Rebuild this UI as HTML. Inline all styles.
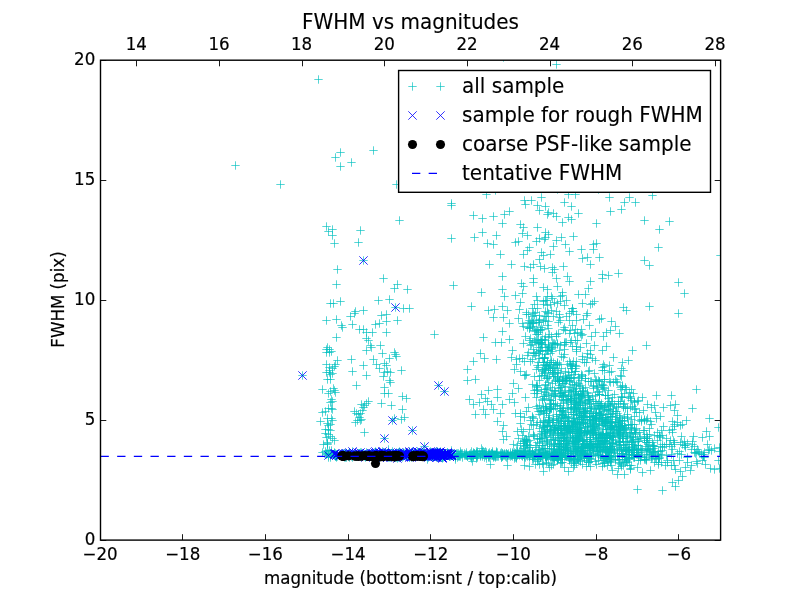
<!DOCTYPE html>
<html><head><meta charset="utf-8"><title>FWHM vs magnitudes</title>
<style>
html,body{margin:0;padding:0;background:#fff;}
body{width:800px;height:600px;overflow:hidden;}
svg{display:block;}
text{font-family:"DejaVu Sans","Liberation Sans",sans-serif;fill:#000;stroke:#000;stroke-width:0.18px;}
.tk{font-size:16.67px;}
.lg{font-size:20px;stroke-width:0.12px;}
</style></head><body>
<svg width="800" height="600" viewBox="0 0 800 600">
<rect width="800" height="600" fill="#fff"/>
<defs>
<g id="p" stroke="#00bfbf" stroke-opacity="0.66" stroke-width="1" fill="none"><path d="M-4.2 0H4.2"/><path d="M0 -4.2V4.2"/></g>
<g id="x" stroke="#0000ff" stroke-opacity="0.8" stroke-width="1" fill="none"><path d="M-4.2 -4.2L4.2 4.2"/><path d="M-4.2 4.2L4.2 -4.2"/></g>
<circle id="o" r="4.55" fill="#000"/>
<clipPath id="c"><rect x="100" y="60" width="620" height="480"/></clipPath>
</defs>

<g clip-path="url(#c)">
<use href="#p" x="318.5" y="79.5"/>
<use href="#p" x="235.5" y="165.5"/>
<use href="#p" x="280.5" y="184.5"/>
<use href="#p" x="340.5" y="152.5"/>
<use href="#p" x="335.5" y="157.5"/>
<use href="#p" x="340.5" y="166.5"/>
<use href="#p" x="351.5" y="162.5"/>
<use href="#p" x="373.5" y="150.5"/>
<use href="#p" x="396.5" y="184.5"/>
<use href="#p" x="326.5" y="226.5"/>
<use href="#p" x="332.5" y="229.5"/>
<use href="#p" x="328.5" y="231.5"/>
<use href="#p" x="332.5" y="235.5"/>
<use href="#p" x="334.5" y="243.5"/>
<use href="#p" x="360.5" y="230.5"/>
<use href="#p" x="358.5" y="242.5"/>
<use href="#p" x="399.5" y="220.5"/>
<use href="#p" x="451.5" y="203.5"/>
<use href="#p" x="451.5" y="205.5"/>
<use href="#p" x="451.5" y="238.5"/>
<use href="#p" x="363.5" y="260.5"/>
<use href="#p" x="337.5" y="269.5"/>
<use href="#p" x="336.5" y="284.5"/>
<use href="#p" x="383.5" y="278.5"/>
<use href="#p" x="397.5" y="284.5"/>
<use href="#p" x="394.5" y="288.5"/>
<use href="#p" x="407.5" y="289.5"/>
<use href="#p" x="453.5" y="285.5"/>
<use href="#p" x="378.5" y="300.5"/>
<use href="#p" x="389.5" y="299.5"/>
<use href="#p" x="330.5" y="303.5"/>
<use href="#p" x="333.5" y="303.5"/>
<use href="#p" x="340.5" y="301.5"/>
<use href="#p" x="395.5" y="307.5"/>
<use href="#p" x="403.5" y="308.5"/>
<use href="#p" x="409.5" y="308.5"/>
<use href="#p" x="363.5" y="310.5"/>
<use href="#p" x="355.5" y="311.5"/>
<use href="#p" x="354.5" y="313.5"/>
<use href="#p" x="350.5" y="316.5"/>
<use href="#p" x="381.5" y="315.5"/>
<use href="#p" x="386.5" y="314.5"/>
<use href="#p" x="336.5" y="319.5"/>
<use href="#p" x="326.5" y="320.5"/>
<use href="#p" x="397.5" y="320.5"/>
<use href="#p" x="341.5" y="325.5"/>
<use href="#p" x="342.5" y="327.5"/>
<use href="#p" x="352.5" y="324.5"/>
<use href="#p" x="359.5" y="329.5"/>
<use href="#p" x="363.5" y="329.5"/>
<use href="#p" x="366.5" y="332.5"/>
<use href="#p" x="372.5" y="332.5"/>
<use href="#p" x="375.5" y="324.5"/>
<use href="#p" x="379.5" y="323.5"/>
<use href="#p" x="386.5" y="321.5"/>
<use href="#p" x="386.5" y="332.5"/>
<use href="#p" x="434.5" y="334.5"/>
<use href="#p" x="336.5" y="337.5"/>
<use href="#p" x="366.5" y="338.5"/>
<use href="#p" x="368.5" y="340.5"/>
<use href="#p" x="370.5" y="345.5"/>
<use href="#p" x="371.5" y="347.5"/>
<use href="#p" x="380.5" y="345.5"/>
<use href="#p" x="366.5" y="350.5"/>
<use href="#p" x="382.5" y="353.5"/>
<use href="#p" x="394.5" y="352.5"/>
<use href="#p" x="395.5" y="354.5"/>
<use href="#p" x="396.5" y="356.5"/>
<use href="#p" x="389.5" y="358.5"/>
<use href="#p" x="326.5" y="349.5"/>
<use href="#p" x="329.5" y="349.5"/>
<use href="#p" x="326.5" y="352.5"/>
<use href="#p" x="329.5" y="352.5"/>
<use href="#p" x="331.5" y="351.5"/>
<use href="#p" x="327.5" y="347.5"/>
<use href="#p" x="351.5" y="359.5"/>
<use href="#p" x="373.5" y="359.5"/>
<use href="#p" x="337.5" y="360.5"/>
<use href="#p" x="376.5" y="364.5"/>
<use href="#p" x="363.5" y="365.5"/>
<use href="#p" x="384.5" y="363.5"/>
<use href="#p" x="386.5" y="365.5"/>
<use href="#p" x="379.5" y="368.5"/>
<use href="#p" x="352.5" y="371.5"/>
<use href="#p" x="366.5" y="375.5"/>
<use href="#p" x="401.5" y="370.5"/>
<use href="#p" x="384.5" y="372.5"/>
<use href="#p" x="390.5" y="372.5"/>
<use href="#p" x="387.5" y="371.5"/>
<use href="#p" x="383.5" y="376.5"/>
<use href="#p" x="389.5" y="380.5"/>
<use href="#p" x="390.5" y="382.5"/>
<use href="#p" x="326.5" y="364.5"/>
<use href="#p" x="329.5" y="367.5"/>
<use href="#p" x="332.5" y="368.5"/>
<use href="#p" x="334.5" y="366.5"/>
<use href="#p" x="335.5" y="364.5"/>
<use href="#p" x="326.5" y="372.5"/>
<use href="#p" x="329.5" y="372.5"/>
<use href="#p" x="330.5" y="374.5"/>
<use href="#p" x="332.5" y="373.5"/>
<use href="#p" x="327.5" y="379.5"/>
<use href="#p" x="330.5" y="379.5"/>
<use href="#p" x="329.5" y="370.5"/>
<use href="#p" x="356.5" y="385.5"/>
<use href="#p" x="384.5" y="387.5"/>
<use href="#p" x="322.5" y="389.5"/>
<use href="#p" x="333.5" y="388.5"/>
<use href="#p" x="334.5" y="390.5"/>
<use href="#p" x="335.5" y="392.5"/>
<use href="#p" x="330.5" y="391.5"/>
<use href="#p" x="328.5" y="393.5"/>
<use href="#p" x="384.5" y="393.5"/>
<use href="#p" x="388.5" y="393.5"/>
<use href="#p" x="402.5" y="396.5"/>
<use href="#p" x="406.5" y="398.5"/>
<use href="#p" x="331.5" y="399.5"/>
<use href="#p" x="332.5" y="401.5"/>
<use href="#p" x="330.5" y="402.5"/>
<use href="#p" x="368.5" y="401.5"/>
<use href="#p" x="366.5" y="403.5"/>
<use href="#p" x="364.5" y="405.5"/>
<use href="#p" x="361.5" y="404.5"/>
<use href="#p" x="363.5" y="407.5"/>
<use href="#p" x="381.5" y="403.5"/>
<use href="#p" x="391.5" y="405.5"/>
<use href="#p" x="402.5" y="409.5"/>
<use href="#p" x="322.5" y="412.5"/>
<use href="#p" x="325.5" y="411.5"/>
<use href="#p" x="328.5" y="408.5"/>
<use href="#p" x="331.5" y="408.5"/>
<use href="#p" x="332.5" y="409.5"/>
<use href="#p" x="354.5" y="411.5"/>
<use href="#p" x="356.5" y="413.5"/>
<use href="#p" x="358.5" y="414.5"/>
<use href="#p" x="360.5" y="413.5"/>
<use href="#p" x="362.5" y="410.5"/>
<use href="#p" x="359.5" y="417.5"/>
<use href="#p" x="361.5" y="419.5"/>
<use href="#p" x="357.5" y="420.5"/>
<use href="#p" x="355.5" y="422.5"/>
<use href="#p" x="360.5" y="420.5"/>
<use href="#p" x="320.5" y="421.5"/>
<use href="#p" x="327.5" y="418.5"/>
<use href="#p" x="331.5" y="418.5"/>
<use href="#p" x="332.5" y="420.5"/>
<use href="#p" x="327.5" y="423.5"/>
<use href="#p" x="328.5" y="425.5"/>
<use href="#p" x="330.5" y="424.5"/>
<use href="#p" x="404.5" y="417.5"/>
<use href="#p" x="401.5" y="419.5"/>
<use href="#p" x="394.5" y="418.5"/>
<use href="#p" x="364.5" y="432.5"/>
<use href="#p" x="325.5" y="429.5"/>
<use href="#p" x="328.5" y="429.5"/>
<use href="#p" x="330.5" y="430.5"/>
<use href="#p" x="325.5" y="433.5"/>
<use href="#p" x="328.5" y="434.5"/>
<use href="#p" x="330.5" y="436.5"/>
<use href="#p" x="326.5" y="437.5"/>
<use href="#p" x="332.5" y="438.5"/>
<use href="#p" x="486.5" y="194.5"/>
<use href="#p" x="541.5" y="197.5"/>
<use href="#p" x="568.5" y="194.5"/>
<use href="#p" x="575.5" y="194.5"/>
<use href="#p" x="609.5" y="197.5"/>
<use href="#p" x="524.5" y="200.5"/>
<use href="#p" x="531.5" y="200.5"/>
<use href="#p" x="525.5" y="204.5"/>
<use href="#p" x="537.5" y="205.5"/>
<use href="#p" x="545.5" y="206.5"/>
<use href="#p" x="564.5" y="202.5"/>
<use href="#p" x="571.5" y="206.5"/>
<use href="#p" x="610.5" y="211.5"/>
<use href="#p" x="621.5" y="209.5"/>
<use href="#p" x="539.5" y="210.5"/>
<use href="#p" x="548.5" y="212.5"/>
<use href="#p" x="547.5" y="214.5"/>
<use href="#p" x="553.5" y="213.5"/>
<use href="#p" x="556.5" y="216.5"/>
<use href="#p" x="578.5" y="213.5"/>
<use href="#p" x="568.5" y="217.5"/>
<use href="#p" x="571.5" y="219.5"/>
<use href="#p" x="562.5" y="222.5"/>
<use href="#p" x="473.5" y="215.5"/>
<use href="#p" x="482.5" y="218.5"/>
<use href="#p" x="493.5" y="216.5"/>
<use href="#p" x="504.5" y="214.5"/>
<use href="#p" x="509.5" y="211.5"/>
<use href="#p" x="502.5" y="223.5"/>
<use href="#p" x="520.5" y="224.5"/>
<use href="#p" x="523.5" y="227.5"/>
<use href="#p" x="537.5" y="227.5"/>
<use href="#p" x="596.5" y="223.5"/>
<use href="#p" x="482.5" y="232.5"/>
<use href="#p" x="474.5" y="237.5"/>
<use href="#p" x="496.5" y="235.5"/>
<use href="#p" x="522.5" y="233.5"/>
<use href="#p" x="527.5" y="235.5"/>
<use href="#p" x="545.5" y="232.5"/>
<use href="#p" x="548.5" y="234.5"/>
<use href="#p" x="545.5" y="237.5"/>
<use href="#p" x="561.5" y="237.5"/>
<use href="#p" x="573.5" y="236.5"/>
<use href="#p" x="556.5" y="240.5"/>
<use href="#p" x="487.5" y="243.5"/>
<use href="#p" x="493.5" y="244.5"/>
<use href="#p" x="515.5" y="242.5"/>
<use href="#p" x="518.5" y="241.5"/>
<use href="#p" x="536.5" y="241.5"/>
<use href="#p" x="539.5" y="238.5"/>
<use href="#p" x="544.5" y="239.5"/>
<use href="#p" x="553.5" y="246.5"/>
<use href="#p" x="565.5" y="244.5"/>
<use href="#p" x="593.5" y="244.5"/>
<use href="#p" x="596.5" y="243.5"/>
<use href="#p" x="593.5" y="249.5"/>
<use href="#p" x="500.5" y="254.5"/>
<use href="#p" x="529.5" y="247.5"/>
<use href="#p" x="527.5" y="250.5"/>
<use href="#p" x="523.5" y="254.5"/>
<use href="#p" x="541.5" y="252.5"/>
<use href="#p" x="543.5" y="255.5"/>
<use href="#p" x="550.5" y="254.5"/>
<use href="#p" x="569.5" y="251.5"/>
<use href="#p" x="581.5" y="249.5"/>
<use href="#p" x="582.5" y="258.5"/>
<use href="#p" x="587.5" y="257.5"/>
<use href="#p" x="599.5" y="257.5"/>
<use href="#p" x="539.5" y="259.5"/>
<use href="#p" x="489.5" y="264.5"/>
<use href="#p" x="511.5" y="264.5"/>
<use href="#p" x="524.5" y="266.5"/>
<use href="#p" x="530.5" y="267.5"/>
<use href="#p" x="533.5" y="264.5"/>
<use href="#p" x="540.5" y="266.5"/>
<use href="#p" x="544.5" y="268.5"/>
<use href="#p" x="552.5" y="267.5"/>
<use href="#p" x="554.5" y="269.5"/>
<use href="#p" x="563.5" y="266.5"/>
<use href="#p" x="590.5" y="264.5"/>
<use href="#p" x="502.5" y="276.5"/>
<use href="#p" x="533.5" y="278.5"/>
<use href="#p" x="533.5" y="282.5"/>
<use href="#p" x="552.5" y="272.5"/>
<use href="#p" x="556.5" y="278.5"/>
<use href="#p" x="567.5" y="276.5"/>
<use href="#p" x="569.5" y="281.5"/>
<use href="#p" x="590.5" y="281.5"/>
<use href="#p" x="602.5" y="274.5"/>
<use href="#p" x="602.5" y="278.5"/>
<use href="#p" x="608.5" y="275.5"/>
<use href="#p" x="618.5" y="273.5"/>
<use href="#p" x="481.5" y="292.5"/>
<use href="#p" x="502.5" y="289.5"/>
<use href="#p" x="504.5" y="296.5"/>
<use href="#p" x="515.5" y="295.5"/>
<use href="#p" x="521.5" y="283.5"/>
<use href="#p" x="523.5" y="286.5"/>
<use href="#p" x="522.5" y="293.5"/>
<use href="#p" x="543.5" y="287.5"/>
<use href="#p" x="547.5" y="289.5"/>
<use href="#p" x="557.5" y="286.5"/>
<use href="#p" x="562.5" y="292.5"/>
<use href="#p" x="588.5" y="288.5"/>
<use href="#p" x="578.5" y="294.5"/>
<use href="#p" x="585.5" y="294.5"/>
<use href="#p" x="536.5" y="296.5"/>
<use href="#p" x="547.5" y="296.5"/>
<use href="#p" x="551.5" y="296.5"/>
<use href="#p" x="552.5" y="298.5"/>
<use href="#p" x="560.5" y="296.5"/>
<use href="#p" x="562.5" y="295.5"/>
<use href="#p" x="624.5" y="202.5"/>
<use href="#p" x="629.5" y="197.5"/>
<use href="#p" x="635.5" y="202.5"/>
<use href="#p" x="652.5" y="195.5"/>
<use href="#p" x="644.5" y="220.5"/>
<use href="#p" x="669.5" y="221.5"/>
<use href="#p" x="659.5" y="229.5"/>
<use href="#p" x="658.5" y="247.5"/>
<use href="#p" x="644.5" y="260.5"/>
<use href="#p" x="649.5" y="265.5"/>
<use href="#p" x="678.5" y="282.5"/>
<use href="#p" x="684.5" y="293.5"/>
<use href="#p" x="720.5" y="255.5"/>
<use href="#p" x="556.5" y="64.5"/>
<use href="#p" x="503.5" y="57.5"/>
<use href="#p" x="471.5" y="306.5"/>
<use href="#p" x="488.5" y="310.5"/>
<use href="#p" x="494.5" y="309.5"/>
<use href="#p" x="502.5" y="306.5"/>
<use href="#p" x="507.5" y="310.5"/>
<use href="#p" x="493.5" y="317.5"/>
<use href="#p" x="503.5" y="317.5"/>
<use href="#p" x="509.5" y="323.5"/>
<use href="#p" x="502.5" y="331.5"/>
<use href="#p" x="483.5" y="337.5"/>
<use href="#p" x="495.5" y="342.5"/>
<use href="#p" x="501.5" y="342.5"/>
<use href="#p" x="509.5" y="339.5"/>
<use href="#p" x="480.5" y="353.5"/>
<use href="#p" x="484.5" y="358.5"/>
<use href="#p" x="496.5" y="359.5"/>
<use href="#p" x="473.5" y="361.5"/>
<use href="#p" x="467.5" y="369.5"/>
<use href="#p" x="467.5" y="380.5"/>
<use href="#p" x="475.5" y="379.5"/>
<use href="#p" x="512.5" y="350.5"/>
<use href="#p" x="511.5" y="357.5"/>
<use href="#p" x="516.5" y="359.5"/>
<use href="#p" x="514.5" y="369.5"/>
<use href="#p" x="520.5" y="371.5"/>
<use href="#p" x="525.5" y="375.5"/>
<use href="#p" x="513.5" y="383.5"/>
<use href="#p" x="518.5" y="388.5"/>
<use href="#p" x="497.5" y="389.5"/>
<use href="#p" x="488.5" y="390.5"/>
<use href="#p" x="481.5" y="394.5"/>
<use href="#p" x="485.5" y="398.5"/>
<use href="#p" x="469.5" y="399.5"/>
<use href="#p" x="473.5" y="404.5"/>
<use href="#p" x="479.5" y="402.5"/>
<use href="#p" x="487.5" y="401.5"/>
<use href="#p" x="491.5" y="404.5"/>
<use href="#p" x="497.5" y="397.5"/>
<use href="#p" x="502.5" y="404.5"/>
<use href="#p" x="509.5" y="399.5"/>
<use href="#p" x="512.5" y="393.5"/>
<use href="#p" x="514.5" y="402.5"/>
<use href="#p" x="475.5" y="414.5"/>
<use href="#p" x="485.5" y="414.5"/>
<use href="#p" x="483.5" y="409.5"/>
<use href="#p" x="493.5" y="409.5"/>
<use href="#p" x="500.5" y="413.5"/>
<use href="#p" x="515.5" y="413.5"/>
<use href="#p" x="520.5" y="416.5"/>
<use href="#p" x="524.5" y="417.5"/>
<use href="#p" x="519.5" y="309.5"/>
<use href="#p" x="520.5" y="302.5"/>
<use href="#p" x="526.5" y="312.5"/>
<use href="#p" x="518.5" y="318.5"/>
<use href="#p" x="523.5" y="326.5"/>
<use href="#p" x="529.5" y="320.5"/>
<use href="#p" x="534.5" y="304.5"/>
<use href="#p" x="532.5" y="308.5"/>
<use href="#p" x="539.5" y="315.5"/>
<use href="#p" x="545.5" y="320.5"/>
<use href="#p" x="548.5" y="313.5"/>
<use href="#p" x="554.5" y="302.5"/>
<use href="#p" x="557.5" y="303.5"/>
<use href="#p" x="559.5" y="317.5"/>
<use href="#p" x="564.5" y="305.5"/>
<use href="#p" x="569.5" y="313.5"/>
<use href="#p" x="572.5" y="308.5"/>
<use href="#p" x="576.5" y="320.5"/>
<use href="#p" x="582.5" y="303.5"/>
<use href="#p" x="587.5" y="313.5"/>
<use href="#p" x="592.5" y="303.5"/>
<use href="#p" x="589.5" y="325.5"/>
<use href="#p" x="611.5" y="321.5"/>
<use href="#p" x="615.5" y="326.5"/>
<use href="#p" x="619.5" y="333.5"/>
<use href="#p" x="606.5" y="346.5"/>
<use href="#p" x="591.5" y="336.5"/>
<use href="#p" x="594.5" y="345.5"/>
<use href="#p" x="580.5" y="333.5"/>
<use href="#p" x="623.5" y="307.5"/>
<use href="#p" x="626.5" y="310.5"/>
<use href="#p" x="649.5" y="306.5"/>
<use href="#p" x="678.5" y="313.5"/>
<use href="#p" x="632.5" y="350.5"/>
<use href="#p" x="646.5" y="345.5"/>
<use href="#p" x="622.5" y="362.5"/>
<use href="#p" x="628.5" y="360.5"/>
<use href="#p" x="609.5" y="365.5"/>
<use href="#p" x="604.5" y="370.5"/>
<use href="#p" x="611.5" y="371.5"/>
<use href="#p" x="623.5" y="370.5"/>
<use href="#p" x="621.5" y="376.5"/>
<use href="#p" x="604.5" y="379.5"/>
<use href="#p" x="613.5" y="382.5"/>
<use href="#p" x="617.5" y="382.5"/>
<use href="#p" x="626.5" y="389.5"/>
<use href="#p" x="696.5" y="389.5"/>
<use href="#p" x="656.5" y="395.5"/>
<use href="#p" x="671.5" y="395.5"/>
<use href="#p" x="633.5" y="393.5"/>
<use href="#p" x="642.5" y="397.5"/>
<use href="#p" x="630.5" y="398.5"/>
<use href="#p" x="634.5" y="402.5"/>
<use href="#p" x="654.5" y="405.5"/>
<use href="#p" x="651.5" y="407.5"/>
<use href="#p" x="663.5" y="407.5"/>
<use href="#p" x="670.5" y="405.5"/>
<use href="#p" x="675.5" y="404.5"/>
<use href="#p" x="674.5" y="410.5"/>
<use href="#p" x="692.5" y="408.5"/>
<use href="#p" x="635.5" y="408.5"/>
<use href="#p" x="643.5" y="410.5"/>
<use href="#p" x="677.5" y="415.5"/>
<use href="#p" x="660.5" y="416.5"/>
<use href="#p" x="709.5" y="418.5"/>
<use href="#p" x="647.5" y="418.5"/>
<use href="#p" x="624.5" y="403.5"/>
<use href="#p" x="627.5" y="414.5"/>
<use href="#p" x="637.5" y="489.5"/>
<use href="#p" x="662.5" y="490.5"/>
<use href="#p" x="675.5" y="486.5"/>
<use href="#p" x="672.5" y="482.5"/>
<use href="#p" x="678.5" y="480.5"/>
<use href="#p" x="682.5" y="476.5"/>
<use href="#p" x="690.5" y="470.5"/>
<use href="#p" x="624.5" y="474.5"/>
<use href="#p" x="642.5" y="472.5"/>
<use href="#p" x="650.5" y="470.5"/>
<use href="#p" x="612.5" y="470.5"/>
<use href="#p" x="602.5" y="466.5"/>
<use href="#p" x="607.5" y="465.5"/>
<use href="#p" x="618.5" y="468.5"/>
<use href="#p" x="630.5" y="469.5"/>
<use href="#p" x="637.5" y="467.5"/>
<use href="#p" x="658.5" y="464.5"/>
<use href="#p" x="667.5" y="462.5"/>
<use href="#p" x="675.5" y="469.5"/>
<use href="#p" x="674.5" y="465.5"/>
<use href="#p" x="685.5" y="467.5"/>
<use href="#p" x="691.5" y="465.5"/>
<use href="#p" x="687.5" y="462.5"/>
<use href="#p" x="696.5" y="461.5"/>
<use href="#p" x="702.5" y="460.5"/>
<use href="#p" x="714.5" y="469.5"/>
<use href="#p" x="719.5" y="468.5"/>
<use href="#p" x="718.5" y="460.5"/>
<use href="#p" x="680.5" y="425.5"/>
<use href="#p" x="706.5" y="431.5"/>
<use href="#p" x="709.5" y="436.5"/>
<use href="#p" x="693.5" y="436.5"/>
<use href="#p" x="718.5" y="427.5"/>
<use href="#p" x="684.5" y="441.5"/>
<use href="#p" x="687.5" y="443.5"/>
<use href="#p" x="692.5" y="444.5"/>
<use href="#p" x="707.5" y="444.5"/>
<use href="#p" x="711.5" y="450.5"/>
<use href="#p" x="704.5" y="452.5"/>
<use href="#p" x="697.5" y="449.5"/>
<use href="#p" x="694.5" y="452.5"/>
<use href="#p" x="685.5" y="445.5"/>
<use href="#p" x="679.5" y="451.5"/>
<use href="#p" x="681.5" y="454.5"/>
<use href="#p" x="672.5" y="449.5"/>
<use href="#p" x="664.5" y="446.5"/>
<use href="#p" x="662.5" y="450.5"/>
<use href="#p" x="669.5" y="430.5"/>
<use href="#p" x="672.5" y="429.5"/>
<use href="#p" x="663.5" y="426.5"/>
<use href="#p" x="497.5" y="421.5"/>
<use href="#p" x="503.5" y="425.5"/>
<use href="#p" x="502.5" y="431.5"/>
<use href="#p" x="517.5" y="431.5"/>
<use href="#p" x="523.5" y="431.5"/>
<use href="#p" x="506.5" y="436.5"/>
<use href="#p" x="503.5" y="439.5"/>
<use href="#p" x="523.5" y="443.5"/>
<use href="#p" x="481.5" y="448.5"/>
<use href="#p" x="530.5" y="420.5"/>
<use href="#p" x="472.5" y="461.5"/>
<use href="#p" x="490.5" y="464.5"/>
<use href="#p" x="507.5" y="465.5"/>
<use href="#p" x="524.5" y="465.5"/>
<use href="#p" x="564.5" y="467.5"/>
<use href="#p" x="586.5" y="466.5"/>
<use href="#p" x="495.5" y="190.5"/>
<use href="#p" x="557.5" y="189.5"/>
<use href="#p" x="598.5" y="189.5"/>
<use href="#p" x="537.5" y="300.5"/>
<use href="#p" x="543.5" y="301.5"/>
<use href="#p" x="545.5" y="300.5"/>
<use href="#p" x="546.5" y="300.5"/>
<use href="#p" x="560.5" y="301.5"/>
<use href="#p" x="566.5" y="300.5"/>
<use href="#p" x="594.5" y="301.5"/>
<use href="#p" x="543.5" y="304.5"/>
<use href="#p" x="547.5" y="305.5"/>
<use href="#p" x="550.5" y="304.5"/>
<use href="#p" x="590.5" y="304.5"/>
<use href="#p" x="537.5" y="308.5"/>
<use href="#p" x="545.5" y="311.5"/>
<use href="#p" x="551.5" y="310.5"/>
<use href="#p" x="556.5" y="311.5"/>
<use href="#p" x="571.5" y="311.5"/>
<use href="#p" x="572.5" y="308.5"/>
<use href="#p" x="573.5" y="311.5"/>
<use href="#p" x="526.5" y="314.5"/>
<use href="#p" x="528.5" y="314.5"/>
<use href="#p" x="534.5" y="315.5"/>
<use href="#p" x="535.5" y="312.5"/>
<use href="#p" x="547.5" y="312.5"/>
<use href="#p" x="559.5" y="314.5"/>
<use href="#p" x="576.5" y="314.5"/>
<use href="#p" x="586.5" y="315.5"/>
<use href="#p" x="532.5" y="316.5"/>
<use href="#p" x="539.5" y="319.5"/>
<use href="#p" x="544.5" y="316.5"/>
<use href="#p" x="546.5" y="316.5"/>
<use href="#p" x="553.5" y="316.5"/>
<use href="#p" x="566.5" y="316.5"/>
<use href="#p" x="583.5" y="319.5"/>
<use href="#p" x="599.5" y="319.5"/>
<use href="#p" x="601.5" y="318.5"/>
<use href="#p" x="531.5" y="321.5"/>
<use href="#p" x="528.5" y="322.5"/>
<use href="#p" x="533.5" y="322.5"/>
<use href="#p" x="533.5" y="323.5"/>
<use href="#p" x="532.5" y="323.5"/>
<use href="#p" x="538.5" y="322.5"/>
<use href="#p" x="536.5" y="320.5"/>
<use href="#p" x="539.5" y="320.5"/>
<use href="#p" x="548.5" y="321.5"/>
<use href="#p" x="558.5" y="322.5"/>
<use href="#p" x="560.5" y="320.5"/>
<use href="#p" x="569.5" y="320.5"/>
<use href="#p" x="530.5" y="327.5"/>
<use href="#p" x="532.5" y="326.5"/>
<use href="#p" x="541.5" y="327.5"/>
<use href="#p" x="547.5" y="325.5"/>
<use href="#p" x="564.5" y="327.5"/>
<use href="#p" x="572.5" y="325.5"/>
<use href="#p" x="529.5" y="328.5"/>
<use href="#p" x="534.5" y="330.5"/>
<use href="#p" x="536.5" y="329.5"/>
<use href="#p" x="542.5" y="329.5"/>
<use href="#p" x="540.5" y="329.5"/>
<use href="#p" x="540.5" y="330.5"/>
<use href="#p" x="548.5" y="328.5"/>
<use href="#p" x="563.5" y="329.5"/>
<use href="#p" x="565.5" y="330.5"/>
<use href="#p" x="570.5" y="330.5"/>
<use href="#p" x="575.5" y="329.5"/>
<use href="#p" x="581.5" y="329.5"/>
<use href="#p" x="610.5" y="330.5"/>
<use href="#p" x="538.5" y="332.5"/>
<use href="#p" x="549.5" y="334.5"/>
<use href="#p" x="556.5" y="334.5"/>
<use href="#p" x="558.5" y="333.5"/>
<use href="#p" x="569.5" y="333.5"/>
<use href="#p" x="574.5" y="333.5"/>
<use href="#p" x="577.5" y="332.5"/>
<use href="#p" x="581.5" y="335.5"/>
<use href="#p" x="582.5" y="334.5"/>
<use href="#p" x="595.5" y="332.5"/>
<use href="#p" x="606.5" y="332.5"/>
<use href="#p" x="525.5" y="336.5"/>
<use href="#p" x="537.5" y="339.5"/>
<use href="#p" x="542.5" y="339.5"/>
<use href="#p" x="548.5" y="337.5"/>
<use href="#p" x="551.5" y="336.5"/>
<use href="#p" x="556.5" y="336.5"/>
<use href="#p" x="603.5" y="336.5"/>
<use href="#p" x="529.5" y="340.5"/>
<use href="#p" x="532.5" y="342.5"/>
<use href="#p" x="535.5" y="341.5"/>
<use href="#p" x="541.5" y="340.5"/>
<use href="#p" x="540.5" y="340.5"/>
<use href="#p" x="552.5" y="342.5"/>
<use href="#p" x="553.5" y="343.5"/>
<use href="#p" x="557.5" y="343.5"/>
<use href="#p" x="564.5" y="342.5"/>
<use href="#p" x="566.5" y="342.5"/>
<use href="#p" x="565.5" y="342.5"/>
<use href="#p" x="571.5" y="340.5"/>
<use href="#p" x="570.5" y="342.5"/>
<use href="#p" x="575.5" y="340.5"/>
<use href="#p" x="577.5" y="340.5"/>
<use href="#p" x="586.5" y="343.5"/>
<use href="#p" x="541.5" y="347.5"/>
<use href="#p" x="542.5" y="344.5"/>
<use href="#p" x="541.5" y="344.5"/>
<use href="#p" x="545.5" y="347.5"/>
<use href="#p" x="548.5" y="346.5"/>
<use href="#p" x="548.5" y="344.5"/>
<use href="#p" x="555.5" y="344.5"/>
<use href="#p" x="552.5" y="347.5"/>
<use href="#p" x="557.5" y="344.5"/>
<use href="#p" x="560.5" y="345.5"/>
<use href="#p" x="564.5" y="344.5"/>
<use href="#p" x="572.5" y="346.5"/>
<use href="#p" x="576.5" y="346.5"/>
<use href="#p" x="580.5" y="347.5"/>
<use href="#p" x="539.5" y="351.5"/>
<use href="#p" x="547.5" y="350.5"/>
<use href="#p" x="547.5" y="350.5"/>
<use href="#p" x="548.5" y="350.5"/>
<use href="#p" x="551.5" y="348.5"/>
<use href="#p" x="552.5" y="351.5"/>
<use href="#p" x="559.5" y="350.5"/>
<use href="#p" x="564.5" y="349.5"/>
<use href="#p" x="576.5" y="351.5"/>
<use href="#p" x="576.5" y="349.5"/>
<use href="#p" x="590.5" y="350.5"/>
<use href="#p" x="602.5" y="350.5"/>
<use href="#p" x="527.5" y="355.5"/>
<use href="#p" x="528.5" y="352.5"/>
<use href="#p" x="535.5" y="355.5"/>
<use href="#p" x="533.5" y="353.5"/>
<use href="#p" x="534.5" y="353.5"/>
<use href="#p" x="536.5" y="352.5"/>
<use href="#p" x="545.5" y="354.5"/>
<use href="#p" x="564.5" y="354.5"/>
<use href="#p" x="587.5" y="353.5"/>
<use href="#p" x="590.5" y="354.5"/>
<use href="#p" x="519.5" y="358.5"/>
<use href="#p" x="522.5" y="358.5"/>
<use href="#p" x="532.5" y="359.5"/>
<use href="#p" x="539.5" y="358.5"/>
<use href="#p" x="544.5" y="358.5"/>
<use href="#p" x="544.5" y="357.5"/>
<use href="#p" x="544.5" y="358.5"/>
<use href="#p" x="561.5" y="356.5"/>
<use href="#p" x="563.5" y="357.5"/>
<use href="#p" x="582.5" y="356.5"/>
<use href="#p" x="582.5" y="359.5"/>
<use href="#p" x="587.5" y="357.5"/>
<use href="#p" x="592.5" y="358.5"/>
<use href="#p" x="613.5" y="357.5"/>
<use href="#p" x="524.5" y="361.5"/>
<use href="#p" x="530.5" y="361.5"/>
<use href="#p" x="538.5" y="362.5"/>
<use href="#p" x="543.5" y="362.5"/>
<use href="#p" x="547.5" y="362.5"/>
<use href="#p" x="550.5" y="362.5"/>
<use href="#p" x="551.5" y="362.5"/>
<use href="#p" x="551.5" y="360.5"/>
<use href="#p" x="557.5" y="362.5"/>
<use href="#p" x="570.5" y="363.5"/>
<use href="#p" x="569.5" y="361.5"/>
<use href="#p" x="573.5" y="361.5"/>
<use href="#p" x="576.5" y="361.5"/>
<use href="#p" x="586.5" y="362.5"/>
<use href="#p" x="584.5" y="362.5"/>
<use href="#p" x="595.5" y="360.5"/>
<use href="#p" x="516.5" y="364.5"/>
<use href="#p" x="538.5" y="367.5"/>
<use href="#p" x="537.5" y="365.5"/>
<use href="#p" x="546.5" y="365.5"/>
<use href="#p" x="544.5" y="364.5"/>
<use href="#p" x="546.5" y="365.5"/>
<use href="#p" x="545.5" y="365.5"/>
<use href="#p" x="548.5" y="367.5"/>
<use href="#p" x="549.5" y="366.5"/>
<use href="#p" x="554.5" y="367.5"/>
<use href="#p" x="555.5" y="364.5"/>
<use href="#p" x="557.5" y="364.5"/>
<use href="#p" x="559.5" y="364.5"/>
<use href="#p" x="567.5" y="364.5"/>
<use href="#p" x="570.5" y="365.5"/>
<use href="#p" x="571.5" y="366.5"/>
<use href="#p" x="575.5" y="365.5"/>
<use href="#p" x="572.5" y="364.5"/>
<use href="#p" x="576.5" y="366.5"/>
<use href="#p" x="602.5" y="367.5"/>
<use href="#p" x="603.5" y="364.5"/>
<use href="#p" x="604.5" y="366.5"/>
<use href="#p" x="536.5" y="369.5"/>
<use href="#p" x="542.5" y="370.5"/>
<use href="#p" x="542.5" y="371.5"/>
<use href="#p" x="543.5" y="369.5"/>
<use href="#p" x="545.5" y="368.5"/>
<use href="#p" x="544.5" y="369.5"/>
<use href="#p" x="550.5" y="368.5"/>
<use href="#p" x="548.5" y="370.5"/>
<use href="#p" x="550.5" y="370.5"/>
<use href="#p" x="552.5" y="368.5"/>
<use href="#p" x="565.5" y="371.5"/>
<use href="#p" x="571.5" y="368.5"/>
<use href="#p" x="575.5" y="371.5"/>
<use href="#p" x="575.5" y="368.5"/>
<use href="#p" x="575.5" y="371.5"/>
<use href="#p" x="572.5" y="368.5"/>
<use href="#p" x="589.5" y="370.5"/>
<use href="#p" x="588.5" y="371.5"/>
<use href="#p" x="602.5" y="370.5"/>
<use href="#p" x="621.5" y="368.5"/>
<use href="#p" x="526.5" y="374.5"/>
<use href="#p" x="524.5" y="375.5"/>
<use href="#p" x="541.5" y="375.5"/>
<use href="#p" x="545.5" y="372.5"/>
<use href="#p" x="544.5" y="373.5"/>
<use href="#p" x="552.5" y="372.5"/>
<use href="#p" x="553.5" y="374.5"/>
<use href="#p" x="558.5" y="372.5"/>
<use href="#p" x="568.5" y="372.5"/>
<use href="#p" x="571.5" y="372.5"/>
<use href="#p" x="574.5" y="374.5"/>
<use href="#p" x="582.5" y="375.5"/>
<use href="#p" x="581.5" y="374.5"/>
<use href="#p" x="594.5" y="373.5"/>
<use href="#p" x="609.5" y="372.5"/>
<use href="#p" x="620.5" y="375.5"/>
<use href="#p" x="534.5" y="376.5"/>
<use href="#p" x="539.5" y="376.5"/>
<use href="#p" x="546.5" y="378.5"/>
<use href="#p" x="547.5" y="377.5"/>
<use href="#p" x="547.5" y="378.5"/>
<use href="#p" x="549.5" y="376.5"/>
<use href="#p" x="553.5" y="376.5"/>
<use href="#p" x="562.5" y="379.5"/>
<use href="#p" x="566.5" y="378.5"/>
<use href="#p" x="565.5" y="377.5"/>
<use href="#p" x="567.5" y="378.5"/>
<use href="#p" x="570.5" y="378.5"/>
<use href="#p" x="571.5" y="378.5"/>
<use href="#p" x="569.5" y="377.5"/>
<use href="#p" x="573.5" y="377.5"/>
<use href="#p" x="579.5" y="378.5"/>
<use href="#p" x="578.5" y="377.5"/>
<use href="#p" x="581.5" y="376.5"/>
<use href="#p" x="585.5" y="378.5"/>
<use href="#p" x="585.5" y="378.5"/>
<use href="#p" x="595.5" y="379.5"/>
<use href="#p" x="604.5" y="379.5"/>
<use href="#p" x="615.5" y="379.5"/>
<use href="#p" x="539.5" y="380.5"/>
<use href="#p" x="548.5" y="382.5"/>
<use href="#p" x="555.5" y="380.5"/>
<use href="#p" x="552.5" y="383.5"/>
<use href="#p" x="559.5" y="381.5"/>
<use href="#p" x="559.5" y="381.5"/>
<use href="#p" x="559.5" y="380.5"/>
<use href="#p" x="562.5" y="380.5"/>
<use href="#p" x="566.5" y="380.5"/>
<use href="#p" x="566.5" y="380.5"/>
<use href="#p" x="565.5" y="380.5"/>
<use href="#p" x="569.5" y="380.5"/>
<use href="#p" x="569.5" y="381.5"/>
<use href="#p" x="574.5" y="382.5"/>
<use href="#p" x="578.5" y="383.5"/>
<use href="#p" x="581.5" y="380.5"/>
<use href="#p" x="590.5" y="381.5"/>
<use href="#p" x="591.5" y="381.5"/>
<use href="#p" x="588.5" y="381.5"/>
<use href="#p" x="599.5" y="381.5"/>
<use href="#p" x="599.5" y="381.5"/>
<use href="#p" x="598.5" y="380.5"/>
<use href="#p" x="596.5" y="380.5"/>
<use href="#p" x="609.5" y="381.5"/>
<use href="#p" x="610.5" y="382.5"/>
<use href="#p" x="616.5" y="381.5"/>
<use href="#p" x="532.5" y="384.5"/>
<use href="#p" x="537.5" y="387.5"/>
<use href="#p" x="536.5" y="385.5"/>
<use href="#p" x="536.5" y="386.5"/>
<use href="#p" x="537.5" y="385.5"/>
<use href="#p" x="545.5" y="385.5"/>
<use href="#p" x="545.5" y="384.5"/>
<use href="#p" x="550.5" y="387.5"/>
<use href="#p" x="559.5" y="385.5"/>
<use href="#p" x="560.5" y="387.5"/>
<use href="#p" x="565.5" y="386.5"/>
<use href="#p" x="570.5" y="387.5"/>
<use href="#p" x="574.5" y="385.5"/>
<use href="#p" x="572.5" y="384.5"/>
<use href="#p" x="576.5" y="384.5"/>
<use href="#p" x="579.5" y="386.5"/>
<use href="#p" x="580.5" y="385.5"/>
<use href="#p" x="585.5" y="387.5"/>
<use href="#p" x="593.5" y="386.5"/>
<use href="#p" x="593.5" y="385.5"/>
<use href="#p" x="596.5" y="387.5"/>
<use href="#p" x="597.5" y="386.5"/>
<use href="#p" x="602.5" y="384.5"/>
<use href="#p" x="601.5" y="385.5"/>
<use href="#p" x="603.5" y="385.5"/>
<use href="#p" x="603.5" y="387.5"/>
<use href="#p" x="622.5" y="386.5"/>
<use href="#p" x="622.5" y="385.5"/>
<use href="#p" x="620.5" y="387.5"/>
<use href="#p" x="625.5" y="387.5"/>
<use href="#p" x="534.5" y="390.5"/>
<use href="#p" x="537.5" y="390.5"/>
<use href="#p" x="536.5" y="389.5"/>
<use href="#p" x="541.5" y="391.5"/>
<use href="#p" x="547.5" y="388.5"/>
<use href="#p" x="544.5" y="389.5"/>
<use href="#p" x="546.5" y="389.5"/>
<use href="#p" x="555.5" y="391.5"/>
<use href="#p" x="554.5" y="390.5"/>
<use href="#p" x="552.5" y="390.5"/>
<use href="#p" x="558.5" y="388.5"/>
<use href="#p" x="560.5" y="390.5"/>
<use href="#p" x="571.5" y="390.5"/>
<use href="#p" x="568.5" y="391.5"/>
<use href="#p" x="573.5" y="389.5"/>
<use href="#p" x="575.5" y="391.5"/>
<use href="#p" x="575.5" y="391.5"/>
<use href="#p" x="576.5" y="388.5"/>
<use href="#p" x="582.5" y="388.5"/>
<use href="#p" x="583.5" y="390.5"/>
<use href="#p" x="583.5" y="391.5"/>
<use href="#p" x="582.5" y="391.5"/>
<use href="#p" x="593.5" y="388.5"/>
<use href="#p" x="598.5" y="391.5"/>
<use href="#p" x="602.5" y="389.5"/>
<use href="#p" x="604.5" y="388.5"/>
<use href="#p" x="608.5" y="390.5"/>
<use href="#p" x="621.5" y="389.5"/>
<use href="#p" x="631.5" y="389.5"/>
<use href="#p" x="534.5" y="393.5"/>
<use href="#p" x="537.5" y="393.5"/>
<use href="#p" x="545.5" y="392.5"/>
<use href="#p" x="546.5" y="394.5"/>
<use href="#p" x="548.5" y="395.5"/>
<use href="#p" x="551.5" y="393.5"/>
<use href="#p" x="553.5" y="395.5"/>
<use href="#p" x="554.5" y="394.5"/>
<use href="#p" x="559.5" y="395.5"/>
<use href="#p" x="561.5" y="393.5"/>
<use href="#p" x="563.5" y="395.5"/>
<use href="#p" x="563.5" y="395.5"/>
<use href="#p" x="562.5" y="392.5"/>
<use href="#p" x="565.5" y="394.5"/>
<use href="#p" x="564.5" y="392.5"/>
<use href="#p" x="570.5" y="395.5"/>
<use href="#p" x="575.5" y="394.5"/>
<use href="#p" x="573.5" y="392.5"/>
<use href="#p" x="578.5" y="395.5"/>
<use href="#p" x="578.5" y="394.5"/>
<use href="#p" x="576.5" y="393.5"/>
<use href="#p" x="578.5" y="395.5"/>
<use href="#p" x="581.5" y="395.5"/>
<use href="#p" x="582.5" y="394.5"/>
<use href="#p" x="580.5" y="394.5"/>
<use href="#p" x="580.5" y="393.5"/>
<use href="#p" x="583.5" y="395.5"/>
<use href="#p" x="587.5" y="392.5"/>
<use href="#p" x="587.5" y="393.5"/>
<use href="#p" x="588.5" y="395.5"/>
<use href="#p" x="595.5" y="395.5"/>
<use href="#p" x="597.5" y="392.5"/>
<use href="#p" x="599.5" y="394.5"/>
<use href="#p" x="599.5" y="394.5"/>
<use href="#p" x="599.5" y="394.5"/>
<use href="#p" x="607.5" y="395.5"/>
<use href="#p" x="605.5" y="395.5"/>
<use href="#p" x="605.5" y="395.5"/>
<use href="#p" x="614.5" y="394.5"/>
<use href="#p" x="624.5" y="393.5"/>
<use href="#p" x="629.5" y="392.5"/>
<use href="#p" x="525.5" y="397.5"/>
<use href="#p" x="536.5" y="397.5"/>
<use href="#p" x="543.5" y="396.5"/>
<use href="#p" x="542.5" y="399.5"/>
<use href="#p" x="544.5" y="398.5"/>
<use href="#p" x="544.5" y="396.5"/>
<use href="#p" x="549.5" y="399.5"/>
<use href="#p" x="555.5" y="396.5"/>
<use href="#p" x="555.5" y="396.5"/>
<use href="#p" x="561.5" y="399.5"/>
<use href="#p" x="563.5" y="396.5"/>
<use href="#p" x="562.5" y="397.5"/>
<use href="#p" x="566.5" y="399.5"/>
<use href="#p" x="570.5" y="399.5"/>
<use href="#p" x="571.5" y="396.5"/>
<use href="#p" x="568.5" y="396.5"/>
<use href="#p" x="570.5" y="398.5"/>
<use href="#p" x="571.5" y="398.5"/>
<use href="#p" x="574.5" y="398.5"/>
<use href="#p" x="574.5" y="397.5"/>
<use href="#p" x="578.5" y="399.5"/>
<use href="#p" x="579.5" y="398.5"/>
<use href="#p" x="582.5" y="396.5"/>
<use href="#p" x="581.5" y="397.5"/>
<use href="#p" x="581.5" y="396.5"/>
<use href="#p" x="589.5" y="399.5"/>
<use href="#p" x="589.5" y="399.5"/>
<use href="#p" x="588.5" y="397.5"/>
<use href="#p" x="590.5" y="399.5"/>
<use href="#p" x="592.5" y="396.5"/>
<use href="#p" x="608.5" y="398.5"/>
<use href="#p" x="612.5" y="397.5"/>
<use href="#p" x="621.5" y="396.5"/>
<use href="#p" x="621.5" y="397.5"/>
<use href="#p" x="622.5" y="397.5"/>
<use href="#p" x="628.5" y="397.5"/>
<use href="#p" x="630.5" y="396.5"/>
<use href="#p" x="542.5" y="400.5"/>
<use href="#p" x="551.5" y="400.5"/>
<use href="#p" x="550.5" y="400.5"/>
<use href="#p" x="550.5" y="403.5"/>
<use href="#p" x="555.5" y="403.5"/>
<use href="#p" x="563.5" y="400.5"/>
<use href="#p" x="563.5" y="400.5"/>
<use href="#p" x="563.5" y="403.5"/>
<use href="#p" x="566.5" y="402.5"/>
<use href="#p" x="570.5" y="400.5"/>
<use href="#p" x="571.5" y="400.5"/>
<use href="#p" x="568.5" y="401.5"/>
<use href="#p" x="574.5" y="401.5"/>
<use href="#p" x="573.5" y="402.5"/>
<use href="#p" x="575.5" y="403.5"/>
<use href="#p" x="579.5" y="401.5"/>
<use href="#p" x="576.5" y="400.5"/>
<use href="#p" x="576.5" y="402.5"/>
<use href="#p" x="580.5" y="403.5"/>
<use href="#p" x="580.5" y="402.5"/>
<use href="#p" x="580.5" y="402.5"/>
<use href="#p" x="587.5" y="402.5"/>
<use href="#p" x="584.5" y="400.5"/>
<use href="#p" x="585.5" y="403.5"/>
<use href="#p" x="585.5" y="401.5"/>
<use href="#p" x="589.5" y="403.5"/>
<use href="#p" x="588.5" y="400.5"/>
<use href="#p" x="595.5" y="401.5"/>
<use href="#p" x="593.5" y="401.5"/>
<use href="#p" x="596.5" y="403.5"/>
<use href="#p" x="599.5" y="401.5"/>
<use href="#p" x="598.5" y="403.5"/>
<use href="#p" x="601.5" y="403.5"/>
<use href="#p" x="608.5" y="403.5"/>
<use href="#p" x="611.5" y="401.5"/>
<use href="#p" x="609.5" y="401.5"/>
<use href="#p" x="612.5" y="403.5"/>
<use href="#p" x="618.5" y="403.5"/>
<use href="#p" x="618.5" y="401.5"/>
<use href="#p" x="620.5" y="401.5"/>
<use href="#p" x="631.5" y="400.5"/>
<use href="#p" x="634.5" y="401.5"/>
<use href="#p" x="637.5" y="401.5"/>
<use href="#p" x="638.5" y="400.5"/>
<use href="#p" x="528.5" y="407.5"/>
<use href="#p" x="539.5" y="405.5"/>
<use href="#p" x="536.5" y="406.5"/>
<use href="#p" x="543.5" y="407.5"/>
<use href="#p" x="545.5" y="406.5"/>
<use href="#p" x="545.5" y="406.5"/>
<use href="#p" x="550.5" y="404.5"/>
<use href="#p" x="550.5" y="407.5"/>
<use href="#p" x="553.5" y="404.5"/>
<use href="#p" x="553.5" y="404.5"/>
<use href="#p" x="555.5" y="406.5"/>
<use href="#p" x="557.5" y="405.5"/>
<use href="#p" x="560.5" y="405.5"/>
<use href="#p" x="567.5" y="407.5"/>
<use href="#p" x="571.5" y="404.5"/>
<use href="#p" x="571.5" y="407.5"/>
<use href="#p" x="575.5" y="404.5"/>
<use href="#p" x="575.5" y="407.5"/>
<use href="#p" x="574.5" y="406.5"/>
<use href="#p" x="577.5" y="407.5"/>
<use href="#p" x="578.5" y="405.5"/>
<use href="#p" x="580.5" y="404.5"/>
<use href="#p" x="582.5" y="405.5"/>
<use href="#p" x="580.5" y="405.5"/>
<use href="#p" x="585.5" y="407.5"/>
<use href="#p" x="589.5" y="404.5"/>
<use href="#p" x="591.5" y="406.5"/>
<use href="#p" x="594.5" y="407.5"/>
<use href="#p" x="597.5" y="405.5"/>
<use href="#p" x="600.5" y="406.5"/>
<use href="#p" x="602.5" y="407.5"/>
<use href="#p" x="600.5" y="405.5"/>
<use href="#p" x="601.5" y="405.5"/>
<use href="#p" x="604.5" y="407.5"/>
<use href="#p" x="604.5" y="406.5"/>
<use href="#p" x="605.5" y="405.5"/>
<use href="#p" x="607.5" y="404.5"/>
<use href="#p" x="610.5" y="405.5"/>
<use href="#p" x="610.5" y="406.5"/>
<use href="#p" x="614.5" y="404.5"/>
<use href="#p" x="618.5" y="406.5"/>
<use href="#p" x="616.5" y="407.5"/>
<use href="#p" x="623.5" y="407.5"/>
<use href="#p" x="623.5" y="406.5"/>
<use href="#p" x="623.5" y="404.5"/>
<use href="#p" x="630.5" y="407.5"/>
<use href="#p" x="632.5" y="406.5"/>
<use href="#p" x="647.5" y="404.5"/>
<use href="#p" x="526.5" y="411.5"/>
<use href="#p" x="537.5" y="408.5"/>
<use href="#p" x="538.5" y="411.5"/>
<use href="#p" x="543.5" y="410.5"/>
<use href="#p" x="540.5" y="411.5"/>
<use href="#p" x="541.5" y="410.5"/>
<use href="#p" x="546.5" y="411.5"/>
<use href="#p" x="546.5" y="408.5"/>
<use href="#p" x="546.5" y="410.5"/>
<use href="#p" x="551.5" y="408.5"/>
<use href="#p" x="550.5" y="408.5"/>
<use href="#p" x="551.5" y="408.5"/>
<use href="#p" x="550.5" y="408.5"/>
<use href="#p" x="549.5" y="409.5"/>
<use href="#p" x="549.5" y="409.5"/>
<use href="#p" x="553.5" y="409.5"/>
<use href="#p" x="559.5" y="408.5"/>
<use href="#p" x="560.5" y="408.5"/>
<use href="#p" x="563.5" y="411.5"/>
<use href="#p" x="563.5" y="408.5"/>
<use href="#p" x="561.5" y="410.5"/>
<use href="#p" x="562.5" y="410.5"/>
<use href="#p" x="560.5" y="411.5"/>
<use href="#p" x="562.5" y="410.5"/>
<use href="#p" x="570.5" y="409.5"/>
<use href="#p" x="568.5" y="408.5"/>
<use href="#p" x="573.5" y="408.5"/>
<use href="#p" x="574.5" y="408.5"/>
<use href="#p" x="574.5" y="409.5"/>
<use href="#p" x="578.5" y="409.5"/>
<use href="#p" x="576.5" y="410.5"/>
<use href="#p" x="579.5" y="408.5"/>
<use href="#p" x="576.5" y="411.5"/>
<use href="#p" x="579.5" y="411.5"/>
<use href="#p" x="583.5" y="409.5"/>
<use href="#p" x="583.5" y="411.5"/>
<use href="#p" x="583.5" y="411.5"/>
<use href="#p" x="587.5" y="410.5"/>
<use href="#p" x="584.5" y="410.5"/>
<use href="#p" x="585.5" y="408.5"/>
<use href="#p" x="585.5" y="411.5"/>
<use href="#p" x="590.5" y="411.5"/>
<use href="#p" x="591.5" y="408.5"/>
<use href="#p" x="590.5" y="408.5"/>
<use href="#p" x="595.5" y="409.5"/>
<use href="#p" x="599.5" y="408.5"/>
<use href="#p" x="598.5" y="408.5"/>
<use href="#p" x="603.5" y="411.5"/>
<use href="#p" x="606.5" y="410.5"/>
<use href="#p" x="604.5" y="409.5"/>
<use href="#p" x="608.5" y="409.5"/>
<use href="#p" x="608.5" y="410.5"/>
<use href="#p" x="609.5" y="409.5"/>
<use href="#p" x="613.5" y="411.5"/>
<use href="#p" x="615.5" y="411.5"/>
<use href="#p" x="613.5" y="408.5"/>
<use href="#p" x="616.5" y="411.5"/>
<use href="#p" x="625.5" y="408.5"/>
<use href="#p" x="627.5" y="408.5"/>
<use href="#p" x="634.5" y="409.5"/>
<use href="#p" x="520.5" y="413.5"/>
<use href="#p" x="539.5" y="414.5"/>
<use href="#p" x="543.5" y="412.5"/>
<use href="#p" x="544.5" y="413.5"/>
<use href="#p" x="546.5" y="413.5"/>
<use href="#p" x="549.5" y="415.5"/>
<use href="#p" x="559.5" y="414.5"/>
<use href="#p" x="556.5" y="414.5"/>
<use href="#p" x="562.5" y="414.5"/>
<use href="#p" x="562.5" y="414.5"/>
<use href="#p" x="561.5" y="415.5"/>
<use href="#p" x="563.5" y="415.5"/>
<use href="#p" x="565.5" y="412.5"/>
<use href="#p" x="564.5" y="414.5"/>
<use href="#p" x="571.5" y="412.5"/>
<use href="#p" x="573.5" y="414.5"/>
<use href="#p" x="573.5" y="414.5"/>
<use href="#p" x="573.5" y="414.5"/>
<use href="#p" x="579.5" y="415.5"/>
<use href="#p" x="579.5" y="413.5"/>
<use href="#p" x="576.5" y="412.5"/>
<use href="#p" x="576.5" y="415.5"/>
<use href="#p" x="576.5" y="414.5"/>
<use href="#p" x="579.5" y="413.5"/>
<use href="#p" x="580.5" y="415.5"/>
<use href="#p" x="583.5" y="412.5"/>
<use href="#p" x="583.5" y="415.5"/>
<use href="#p" x="585.5" y="413.5"/>
<use href="#p" x="584.5" y="412.5"/>
<use href="#p" x="591.5" y="413.5"/>
<use href="#p" x="589.5" y="413.5"/>
<use href="#p" x="595.5" y="415.5"/>
<use href="#p" x="593.5" y="413.5"/>
<use href="#p" x="593.5" y="415.5"/>
<use href="#p" x="599.5" y="412.5"/>
<use href="#p" x="596.5" y="413.5"/>
<use href="#p" x="599.5" y="415.5"/>
<use href="#p" x="599.5" y="413.5"/>
<use href="#p" x="596.5" y="412.5"/>
<use href="#p" x="599.5" y="413.5"/>
<use href="#p" x="596.5" y="413.5"/>
<use href="#p" x="600.5" y="415.5"/>
<use href="#p" x="601.5" y="414.5"/>
<use href="#p" x="600.5" y="414.5"/>
<use href="#p" x="601.5" y="415.5"/>
<use href="#p" x="607.5" y="414.5"/>
<use href="#p" x="610.5" y="414.5"/>
<use href="#p" x="612.5" y="413.5"/>
<use href="#p" x="619.5" y="415.5"/>
<use href="#p" x="617.5" y="413.5"/>
<use href="#p" x="636.5" y="412.5"/>
<use href="#p" x="639.5" y="412.5"/>
<use href="#p" x="655.5" y="412.5"/>
<use href="#p" x="533.5" y="418.5"/>
<use href="#p" x="532.5" y="417.5"/>
<use href="#p" x="532.5" y="416.5"/>
<use href="#p" x="549.5" y="419.5"/>
<use href="#p" x="548.5" y="417.5"/>
<use href="#p" x="553.5" y="418.5"/>
<use href="#p" x="556.5" y="416.5"/>
<use href="#p" x="557.5" y="419.5"/>
<use href="#p" x="562.5" y="417.5"/>
<use href="#p" x="561.5" y="418.5"/>
<use href="#p" x="564.5" y="418.5"/>
<use href="#p" x="565.5" y="416.5"/>
<use href="#p" x="566.5" y="417.5"/>
<use href="#p" x="568.5" y="417.5"/>
<use href="#p" x="568.5" y="416.5"/>
<use href="#p" x="574.5" y="418.5"/>
<use href="#p" x="573.5" y="418.5"/>
<use href="#p" x="579.5" y="417.5"/>
<use href="#p" x="578.5" y="419.5"/>
<use href="#p" x="581.5" y="417.5"/>
<use href="#p" x="581.5" y="417.5"/>
<use href="#p" x="582.5" y="419.5"/>
<use href="#p" x="583.5" y="417.5"/>
<use href="#p" x="581.5" y="419.5"/>
<use href="#p" x="582.5" y="417.5"/>
<use href="#p" x="581.5" y="416.5"/>
<use href="#p" x="586.5" y="416.5"/>
<use href="#p" x="584.5" y="417.5"/>
<use href="#p" x="584.5" y="417.5"/>
<use href="#p" x="585.5" y="417.5"/>
<use href="#p" x="587.5" y="419.5"/>
<use href="#p" x="589.5" y="419.5"/>
<use href="#p" x="589.5" y="416.5"/>
<use href="#p" x="589.5" y="416.5"/>
<use href="#p" x="589.5" y="419.5"/>
<use href="#p" x="594.5" y="419.5"/>
<use href="#p" x="593.5" y="417.5"/>
<use href="#p" x="592.5" y="416.5"/>
<use href="#p" x="595.5" y="418.5"/>
<use href="#p" x="595.5" y="417.5"/>
<use href="#p" x="595.5" y="419.5"/>
<use href="#p" x="596.5" y="418.5"/>
<use href="#p" x="596.5" y="417.5"/>
<use href="#p" x="596.5" y="418.5"/>
<use href="#p" x="596.5" y="416.5"/>
<use href="#p" x="602.5" y="418.5"/>
<use href="#p" x="603.5" y="419.5"/>
<use href="#p" x="602.5" y="419.5"/>
<use href="#p" x="605.5" y="417.5"/>
<use href="#p" x="606.5" y="417.5"/>
<use href="#p" x="605.5" y="417.5"/>
<use href="#p" x="610.5" y="416.5"/>
<use href="#p" x="608.5" y="419.5"/>
<use href="#p" x="611.5" y="416.5"/>
<use href="#p" x="612.5" y="416.5"/>
<use href="#p" x="615.5" y="417.5"/>
<use href="#p" x="619.5" y="417.5"/>
<use href="#p" x="616.5" y="419.5"/>
<use href="#p" x="620.5" y="418.5"/>
<use href="#p" x="627.5" y="418.5"/>
<use href="#p" x="627.5" y="417.5"/>
<use href="#p" x="624.5" y="416.5"/>
<use href="#p" x="631.5" y="419.5"/>
<use href="#p" x="634.5" y="416.5"/>
<use href="#p" x="641.5" y="419.5"/>
<use href="#p" x="644.5" y="419.5"/>
<use href="#p" x="656.5" y="418.5"/>
<use href="#p" x="520.5" y="423.5"/>
<use href="#p" x="537.5" y="422.5"/>
<use href="#p" x="540.5" y="422.5"/>
<use href="#p" x="543.5" y="421.5"/>
<use href="#p" x="543.5" y="420.5"/>
<use href="#p" x="544.5" y="422.5"/>
<use href="#p" x="545.5" y="422.5"/>
<use href="#p" x="548.5" y="420.5"/>
<use href="#p" x="549.5" y="422.5"/>
<use href="#p" x="548.5" y="420.5"/>
<use href="#p" x="548.5" y="421.5"/>
<use href="#p" x="552.5" y="422.5"/>
<use href="#p" x="552.5" y="422.5"/>
<use href="#p" x="553.5" y="420.5"/>
<use href="#p" x="556.5" y="422.5"/>
<use href="#p" x="558.5" y="420.5"/>
<use href="#p" x="558.5" y="420.5"/>
<use href="#p" x="561.5" y="423.5"/>
<use href="#p" x="560.5" y="421.5"/>
<use href="#p" x="563.5" y="421.5"/>
<use href="#p" x="567.5" y="420.5"/>
<use href="#p" x="565.5" y="423.5"/>
<use href="#p" x="567.5" y="421.5"/>
<use href="#p" x="569.5" y="421.5"/>
<use href="#p" x="568.5" y="421.5"/>
<use href="#p" x="571.5" y="422.5"/>
<use href="#p" x="575.5" y="422.5"/>
<use href="#p" x="574.5" y="422.5"/>
<use href="#p" x="572.5" y="421.5"/>
<use href="#p" x="573.5" y="420.5"/>
<use href="#p" x="573.5" y="423.5"/>
<use href="#p" x="575.5" y="423.5"/>
<use href="#p" x="574.5" y="421.5"/>
<use href="#p" x="577.5" y="421.5"/>
<use href="#p" x="579.5" y="423.5"/>
<use href="#p" x="579.5" y="422.5"/>
<use href="#p" x="577.5" y="422.5"/>
<use href="#p" x="583.5" y="422.5"/>
<use href="#p" x="583.5" y="422.5"/>
<use href="#p" x="583.5" y="422.5"/>
<use href="#p" x="582.5" y="423.5"/>
<use href="#p" x="585.5" y="423.5"/>
<use href="#p" x="585.5" y="423.5"/>
<use href="#p" x="590.5" y="420.5"/>
<use href="#p" x="590.5" y="421.5"/>
<use href="#p" x="592.5" y="420.5"/>
<use href="#p" x="593.5" y="423.5"/>
<use href="#p" x="592.5" y="422.5"/>
<use href="#p" x="593.5" y="420.5"/>
<use href="#p" x="598.5" y="421.5"/>
<use href="#p" x="596.5" y="423.5"/>
<use href="#p" x="599.5" y="420.5"/>
<use href="#p" x="601.5" y="421.5"/>
<use href="#p" x="602.5" y="421.5"/>
<use href="#p" x="602.5" y="420.5"/>
<use href="#p" x="607.5" y="422.5"/>
<use href="#p" x="605.5" y="423.5"/>
<use href="#p" x="606.5" y="421.5"/>
<use href="#p" x="604.5" y="422.5"/>
<use href="#p" x="605.5" y="423.5"/>
<use href="#p" x="604.5" y="423.5"/>
<use href="#p" x="607.5" y="420.5"/>
<use href="#p" x="605.5" y="422.5"/>
<use href="#p" x="609.5" y="421.5"/>
<use href="#p" x="610.5" y="421.5"/>
<use href="#p" x="608.5" y="421.5"/>
<use href="#p" x="611.5" y="423.5"/>
<use href="#p" x="612.5" y="422.5"/>
<use href="#p" x="615.5" y="422.5"/>
<use href="#p" x="615.5" y="422.5"/>
<use href="#p" x="617.5" y="421.5"/>
<use href="#p" x="618.5" y="422.5"/>
<use href="#p" x="619.5" y="420.5"/>
<use href="#p" x="621.5" y="423.5"/>
<use href="#p" x="622.5" y="421.5"/>
<use href="#p" x="622.5" y="420.5"/>
<use href="#p" x="624.5" y="420.5"/>
<use href="#p" x="639.5" y="420.5"/>
<use href="#p" x="641.5" y="421.5"/>
<use href="#p" x="646.5" y="420.5"/>
<use href="#p" x="644.5" y="420.5"/>
<use href="#p" x="650.5" y="421.5"/>
<use href="#p" x="672.5" y="421.5"/>
<use href="#p" x="677.5" y="422.5"/>
<use href="#p" x="686.5" y="420.5"/>
<use href="#p" x="531.5" y="424.5"/>
<use href="#p" x="533.5" y="425.5"/>
<use href="#p" x="536.5" y="424.5"/>
<use href="#p" x="542.5" y="426.5"/>
<use href="#p" x="543.5" y="427.5"/>
<use href="#p" x="543.5" y="425.5"/>
<use href="#p" x="546.5" y="426.5"/>
<use href="#p" x="544.5" y="427.5"/>
<use href="#p" x="547.5" y="426.5"/>
<use href="#p" x="547.5" y="425.5"/>
<use href="#p" x="547.5" y="425.5"/>
<use href="#p" x="549.5" y="426.5"/>
<use href="#p" x="550.5" y="425.5"/>
<use href="#p" x="555.5" y="427.5"/>
<use href="#p" x="554.5" y="427.5"/>
<use href="#p" x="553.5" y="425.5"/>
<use href="#p" x="559.5" y="425.5"/>
<use href="#p" x="556.5" y="427.5"/>
<use href="#p" x="558.5" y="425.5"/>
<use href="#p" x="563.5" y="426.5"/>
<use href="#p" x="561.5" y="426.5"/>
<use href="#p" x="563.5" y="426.5"/>
<use href="#p" x="564.5" y="425.5"/>
<use href="#p" x="565.5" y="427.5"/>
<use href="#p" x="565.5" y="425.5"/>
<use href="#p" x="567.5" y="427.5"/>
<use href="#p" x="564.5" y="426.5"/>
<use href="#p" x="571.5" y="426.5"/>
<use href="#p" x="569.5" y="427.5"/>
<use href="#p" x="568.5" y="425.5"/>
<use href="#p" x="572.5" y="426.5"/>
<use href="#p" x="573.5" y="427.5"/>
<use href="#p" x="572.5" y="425.5"/>
<use href="#p" x="573.5" y="424.5"/>
<use href="#p" x="575.5" y="426.5"/>
<use href="#p" x="573.5" y="426.5"/>
<use href="#p" x="577.5" y="424.5"/>
<use href="#p" x="577.5" y="424.5"/>
<use href="#p" x="576.5" y="427.5"/>
<use href="#p" x="579.5" y="425.5"/>
<use href="#p" x="580.5" y="427.5"/>
<use href="#p" x="580.5" y="424.5"/>
<use href="#p" x="587.5" y="426.5"/>
<use href="#p" x="585.5" y="427.5"/>
<use href="#p" x="587.5" y="426.5"/>
<use href="#p" x="587.5" y="424.5"/>
<use href="#p" x="590.5" y="426.5"/>
<use href="#p" x="591.5" y="425.5"/>
<use href="#p" x="590.5" y="425.5"/>
<use href="#p" x="594.5" y="426.5"/>
<use href="#p" x="595.5" y="426.5"/>
<use href="#p" x="592.5" y="427.5"/>
<use href="#p" x="593.5" y="424.5"/>
<use href="#p" x="599.5" y="425.5"/>
<use href="#p" x="596.5" y="424.5"/>
<use href="#p" x="597.5" y="427.5"/>
<use href="#p" x="603.5" y="424.5"/>
<use href="#p" x="602.5" y="425.5"/>
<use href="#p" x="605.5" y="426.5"/>
<use href="#p" x="605.5" y="425.5"/>
<use href="#p" x="611.5" y="427.5"/>
<use href="#p" x="611.5" y="426.5"/>
<use href="#p" x="611.5" y="427.5"/>
<use href="#p" x="610.5" y="425.5"/>
<use href="#p" x="610.5" y="427.5"/>
<use href="#p" x="614.5" y="426.5"/>
<use href="#p" x="612.5" y="425.5"/>
<use href="#p" x="618.5" y="426.5"/>
<use href="#p" x="618.5" y="424.5"/>
<use href="#p" x="619.5" y="425.5"/>
<use href="#p" x="616.5" y="427.5"/>
<use href="#p" x="621.5" y="427.5"/>
<use href="#p" x="620.5" y="427.5"/>
<use href="#p" x="622.5" y="426.5"/>
<use href="#p" x="620.5" y="426.5"/>
<use href="#p" x="622.5" y="425.5"/>
<use href="#p" x="620.5" y="426.5"/>
<use href="#p" x="625.5" y="427.5"/>
<use href="#p" x="624.5" y="425.5"/>
<use href="#p" x="630.5" y="424.5"/>
<use href="#p" x="628.5" y="424.5"/>
<use href="#p" x="631.5" y="427.5"/>
<use href="#p" x="628.5" y="425.5"/>
<use href="#p" x="634.5" y="424.5"/>
<use href="#p" x="632.5" y="424.5"/>
<use href="#p" x="651.5" y="424.5"/>
<use href="#p" x="674.5" y="424.5"/>
<use href="#p" x="674.5" y="426.5"/>
<use href="#p" x="682.5" y="424.5"/>
<use href="#p" x="521.5" y="429.5"/>
<use href="#p" x="529.5" y="429.5"/>
<use href="#p" x="539.5" y="428.5"/>
<use href="#p" x="541.5" y="431.5"/>
<use href="#p" x="544.5" y="431.5"/>
<use href="#p" x="547.5" y="430.5"/>
<use href="#p" x="547.5" y="429.5"/>
<use href="#p" x="547.5" y="431.5"/>
<use href="#p" x="545.5" y="429.5"/>
<use href="#p" x="551.5" y="430.5"/>
<use href="#p" x="550.5" y="429.5"/>
<use href="#p" x="550.5" y="431.5"/>
<use href="#p" x="554.5" y="429.5"/>
<use href="#p" x="554.5" y="428.5"/>
<use href="#p" x="555.5" y="430.5"/>
<use href="#p" x="554.5" y="430.5"/>
<use href="#p" x="555.5" y="429.5"/>
<use href="#p" x="558.5" y="428.5"/>
<use href="#p" x="558.5" y="430.5"/>
<use href="#p" x="558.5" y="428.5"/>
<use href="#p" x="557.5" y="428.5"/>
<use href="#p" x="557.5" y="430.5"/>
<use href="#p" x="561.5" y="430.5"/>
<use href="#p" x="561.5" y="429.5"/>
<use href="#p" x="560.5" y="430.5"/>
<use href="#p" x="560.5" y="428.5"/>
<use href="#p" x="561.5" y="430.5"/>
<use href="#p" x="566.5" y="428.5"/>
<use href="#p" x="566.5" y="430.5"/>
<use href="#p" x="564.5" y="428.5"/>
<use href="#p" x="567.5" y="429.5"/>
<use href="#p" x="570.5" y="429.5"/>
<use href="#p" x="570.5" y="429.5"/>
<use href="#p" x="568.5" y="430.5"/>
<use href="#p" x="570.5" y="431.5"/>
<use href="#p" x="569.5" y="431.5"/>
<use href="#p" x="570.5" y="431.5"/>
<use href="#p" x="572.5" y="429.5"/>
<use href="#p" x="575.5" y="429.5"/>
<use href="#p" x="574.5" y="431.5"/>
<use href="#p" x="572.5" y="428.5"/>
<use href="#p" x="572.5" y="430.5"/>
<use href="#p" x="579.5" y="428.5"/>
<use href="#p" x="578.5" y="429.5"/>
<use href="#p" x="577.5" y="431.5"/>
<use href="#p" x="579.5" y="430.5"/>
<use href="#p" x="577.5" y="431.5"/>
<use href="#p" x="577.5" y="429.5"/>
<use href="#p" x="581.5" y="430.5"/>
<use href="#p" x="580.5" y="430.5"/>
<use href="#p" x="581.5" y="428.5"/>
<use href="#p" x="586.5" y="431.5"/>
<use href="#p" x="587.5" y="431.5"/>
<use href="#p" x="584.5" y="431.5"/>
<use href="#p" x="587.5" y="431.5"/>
<use href="#p" x="588.5" y="430.5"/>
<use href="#p" x="592.5" y="431.5"/>
<use href="#p" x="593.5" y="428.5"/>
<use href="#p" x="594.5" y="430.5"/>
<use href="#p" x="594.5" y="429.5"/>
<use href="#p" x="592.5" y="430.5"/>
<use href="#p" x="592.5" y="430.5"/>
<use href="#p" x="592.5" y="429.5"/>
<use href="#p" x="598.5" y="428.5"/>
<use href="#p" x="603.5" y="429.5"/>
<use href="#p" x="607.5" y="429.5"/>
<use href="#p" x="606.5" y="429.5"/>
<use href="#p" x="609.5" y="428.5"/>
<use href="#p" x="610.5" y="428.5"/>
<use href="#p" x="613.5" y="429.5"/>
<use href="#p" x="613.5" y="429.5"/>
<use href="#p" x="617.5" y="431.5"/>
<use href="#p" x="619.5" y="429.5"/>
<use href="#p" x="618.5" y="430.5"/>
<use href="#p" x="618.5" y="430.5"/>
<use href="#p" x="616.5" y="428.5"/>
<use href="#p" x="623.5" y="429.5"/>
<use href="#p" x="622.5" y="428.5"/>
<use href="#p" x="626.5" y="429.5"/>
<use href="#p" x="624.5" y="428.5"/>
<use href="#p" x="624.5" y="430.5"/>
<use href="#p" x="631.5" y="428.5"/>
<use href="#p" x="634.5" y="429.5"/>
<use href="#p" x="634.5" y="430.5"/>
<use href="#p" x="636.5" y="428.5"/>
<use href="#p" x="643.5" y="430.5"/>
<use href="#p" x="644.5" y="430.5"/>
<use href="#p" x="649.5" y="428.5"/>
<use href="#p" x="661.5" y="430.5"/>
<use href="#p" x="522.5" y="435.5"/>
<use href="#p" x="533.5" y="435.5"/>
<use href="#p" x="533.5" y="434.5"/>
<use href="#p" x="541.5" y="433.5"/>
<use href="#p" x="542.5" y="434.5"/>
<use href="#p" x="544.5" y="432.5"/>
<use href="#p" x="545.5" y="433.5"/>
<use href="#p" x="545.5" y="435.5"/>
<use href="#p" x="549.5" y="432.5"/>
<use href="#p" x="553.5" y="433.5"/>
<use href="#p" x="553.5" y="434.5"/>
<use href="#p" x="552.5" y="435.5"/>
<use href="#p" x="558.5" y="435.5"/>
<use href="#p" x="557.5" y="432.5"/>
<use href="#p" x="562.5" y="435.5"/>
<use href="#p" x="563.5" y="434.5"/>
<use href="#p" x="560.5" y="433.5"/>
<use href="#p" x="562.5" y="432.5"/>
<use href="#p" x="561.5" y="433.5"/>
<use href="#p" x="567.5" y="432.5"/>
<use href="#p" x="565.5" y="434.5"/>
<use href="#p" x="564.5" y="433.5"/>
<use href="#p" x="570.5" y="433.5"/>
<use href="#p" x="570.5" y="432.5"/>
<use href="#p" x="570.5" y="432.5"/>
<use href="#p" x="570.5" y="435.5"/>
<use href="#p" x="572.5" y="433.5"/>
<use href="#p" x="577.5" y="435.5"/>
<use href="#p" x="576.5" y="433.5"/>
<use href="#p" x="579.5" y="432.5"/>
<use href="#p" x="579.5" y="432.5"/>
<use href="#p" x="578.5" y="433.5"/>
<use href="#p" x="578.5" y="433.5"/>
<use href="#p" x="581.5" y="435.5"/>
<use href="#p" x="580.5" y="435.5"/>
<use href="#p" x="580.5" y="432.5"/>
<use href="#p" x="580.5" y="434.5"/>
<use href="#p" x="581.5" y="433.5"/>
<use href="#p" x="584.5" y="433.5"/>
<use href="#p" x="584.5" y="432.5"/>
<use href="#p" x="586.5" y="434.5"/>
<use href="#p" x="585.5" y="432.5"/>
<use href="#p" x="587.5" y="432.5"/>
<use href="#p" x="590.5" y="433.5"/>
<use href="#p" x="591.5" y="432.5"/>
<use href="#p" x="593.5" y="432.5"/>
<use href="#p" x="595.5" y="434.5"/>
<use href="#p" x="593.5" y="432.5"/>
<use href="#p" x="595.5" y="433.5"/>
<use href="#p" x="592.5" y="433.5"/>
<use href="#p" x="593.5" y="435.5"/>
<use href="#p" x="596.5" y="435.5"/>
<use href="#p" x="599.5" y="432.5"/>
<use href="#p" x="598.5" y="434.5"/>
<use href="#p" x="603.5" y="435.5"/>
<use href="#p" x="601.5" y="434.5"/>
<use href="#p" x="602.5" y="433.5"/>
<use href="#p" x="600.5" y="434.5"/>
<use href="#p" x="602.5" y="433.5"/>
<use href="#p" x="602.5" y="435.5"/>
<use href="#p" x="606.5" y="433.5"/>
<use href="#p" x="606.5" y="434.5"/>
<use href="#p" x="605.5" y="435.5"/>
<use href="#p" x="606.5" y="434.5"/>
<use href="#p" x="610.5" y="432.5"/>
<use href="#p" x="610.5" y="435.5"/>
<use href="#p" x="610.5" y="435.5"/>
<use href="#p" x="608.5" y="433.5"/>
<use href="#p" x="610.5" y="435.5"/>
<use href="#p" x="612.5" y="432.5"/>
<use href="#p" x="612.5" y="433.5"/>
<use href="#p" x="614.5" y="433.5"/>
<use href="#p" x="619.5" y="434.5"/>
<use href="#p" x="618.5" y="435.5"/>
<use href="#p" x="619.5" y="432.5"/>
<use href="#p" x="617.5" y="434.5"/>
<use href="#p" x="618.5" y="435.5"/>
<use href="#p" x="620.5" y="433.5"/>
<use href="#p" x="623.5" y="432.5"/>
<use href="#p" x="620.5" y="433.5"/>
<use href="#p" x="620.5" y="432.5"/>
<use href="#p" x="625.5" y="434.5"/>
<use href="#p" x="626.5" y="435.5"/>
<use href="#p" x="629.5" y="433.5"/>
<use href="#p" x="631.5" y="432.5"/>
<use href="#p" x="630.5" y="432.5"/>
<use href="#p" x="635.5" y="432.5"/>
<use href="#p" x="635.5" y="433.5"/>
<use href="#p" x="635.5" y="434.5"/>
<use href="#p" x="639.5" y="432.5"/>
<use href="#p" x="646.5" y="434.5"/>
<use href="#p" x="649.5" y="434.5"/>
<use href="#p" x="654.5" y="435.5"/>
<use href="#p" x="659.5" y="435.5"/>
<use href="#p" x="657.5" y="432.5"/>
<use href="#p" x="662.5" y="435.5"/>
<use href="#p" x="672.5" y="432.5"/>
<use href="#p" x="528.5" y="436.5"/>
<use href="#p" x="534.5" y="436.5"/>
<use href="#p" x="539.5" y="439.5"/>
<use href="#p" x="539.5" y="438.5"/>
<use href="#p" x="537.5" y="438.5"/>
<use href="#p" x="541.5" y="438.5"/>
<use href="#p" x="540.5" y="438.5"/>
<use href="#p" x="546.5" y="436.5"/>
<use href="#p" x="544.5" y="437.5"/>
<use href="#p" x="551.5" y="439.5"/>
<use href="#p" x="550.5" y="437.5"/>
<use href="#p" x="553.5" y="439.5"/>
<use href="#p" x="557.5" y="438.5"/>
<use href="#p" x="558.5" y="437.5"/>
<use href="#p" x="559.5" y="437.5"/>
<use href="#p" x="563.5" y="438.5"/>
<use href="#p" x="566.5" y="438.5"/>
<use href="#p" x="567.5" y="439.5"/>
<use href="#p" x="564.5" y="437.5"/>
<use href="#p" x="564.5" y="437.5"/>
<use href="#p" x="570.5" y="437.5"/>
<use href="#p" x="570.5" y="436.5"/>
<use href="#p" x="572.5" y="437.5"/>
<use href="#p" x="573.5" y="438.5"/>
<use href="#p" x="575.5" y="437.5"/>
<use href="#p" x="575.5" y="437.5"/>
<use href="#p" x="575.5" y="438.5"/>
<use href="#p" x="578.5" y="439.5"/>
<use href="#p" x="579.5" y="436.5"/>
<use href="#p" x="579.5" y="437.5"/>
<use href="#p" x="576.5" y="439.5"/>
<use href="#p" x="579.5" y="438.5"/>
<use href="#p" x="576.5" y="436.5"/>
<use href="#p" x="579.5" y="438.5"/>
<use href="#p" x="583.5" y="439.5"/>
<use href="#p" x="586.5" y="439.5"/>
<use href="#p" x="589.5" y="437.5"/>
<use href="#p" x="590.5" y="437.5"/>
<use href="#p" x="590.5" y="439.5"/>
<use href="#p" x="593.5" y="439.5"/>
<use href="#p" x="599.5" y="437.5"/>
<use href="#p" x="596.5" y="437.5"/>
<use href="#p" x="598.5" y="438.5"/>
<use href="#p" x="596.5" y="438.5"/>
<use href="#p" x="601.5" y="437.5"/>
<use href="#p" x="600.5" y="438.5"/>
<use href="#p" x="600.5" y="436.5"/>
<use href="#p" x="607.5" y="437.5"/>
<use href="#p" x="607.5" y="436.5"/>
<use href="#p" x="606.5" y="438.5"/>
<use href="#p" x="606.5" y="437.5"/>
<use href="#p" x="604.5" y="438.5"/>
<use href="#p" x="611.5" y="437.5"/>
<use href="#p" x="609.5" y="438.5"/>
<use href="#p" x="609.5" y="438.5"/>
<use href="#p" x="613.5" y="436.5"/>
<use href="#p" x="613.5" y="436.5"/>
<use href="#p" x="612.5" y="437.5"/>
<use href="#p" x="613.5" y="439.5"/>
<use href="#p" x="620.5" y="437.5"/>
<use href="#p" x="622.5" y="438.5"/>
<use href="#p" x="622.5" y="438.5"/>
<use href="#p" x="623.5" y="436.5"/>
<use href="#p" x="622.5" y="436.5"/>
<use href="#p" x="627.5" y="438.5"/>
<use href="#p" x="627.5" y="436.5"/>
<use href="#p" x="630.5" y="437.5"/>
<use href="#p" x="633.5" y="439.5"/>
<use href="#p" x="632.5" y="436.5"/>
<use href="#p" x="633.5" y="437.5"/>
<use href="#p" x="639.5" y="438.5"/>
<use href="#p" x="637.5" y="439.5"/>
<use href="#p" x="640.5" y="436.5"/>
<use href="#p" x="644.5" y="438.5"/>
<use href="#p" x="647.5" y="438.5"/>
<use href="#p" x="644.5" y="437.5"/>
<use href="#p" x="647.5" y="438.5"/>
<use href="#p" x="647.5" y="436.5"/>
<use href="#p" x="659.5" y="436.5"/>
<use href="#p" x="660.5" y="437.5"/>
<use href="#p" x="666.5" y="438.5"/>
<use href="#p" x="681.5" y="436.5"/>
<use href="#p" x="702.5" y="437.5"/>
<use href="#p" x="524.5" y="441.5"/>
<use href="#p" x="537.5" y="442.5"/>
<use href="#p" x="539.5" y="443.5"/>
<use href="#p" x="542.5" y="441.5"/>
<use href="#p" x="547.5" y="443.5"/>
<use href="#p" x="547.5" y="441.5"/>
<use href="#p" x="547.5" y="442.5"/>
<use href="#p" x="546.5" y="440.5"/>
<use href="#p" x="555.5" y="440.5"/>
<use href="#p" x="554.5" y="443.5"/>
<use href="#p" x="555.5" y="440.5"/>
<use href="#p" x="559.5" y="443.5"/>
<use href="#p" x="559.5" y="443.5"/>
<use href="#p" x="563.5" y="440.5"/>
<use href="#p" x="560.5" y="440.5"/>
<use href="#p" x="561.5" y="440.5"/>
<use href="#p" x="563.5" y="443.5"/>
<use href="#p" x="561.5" y="441.5"/>
<use href="#p" x="564.5" y="440.5"/>
<use href="#p" x="565.5" y="441.5"/>
<use href="#p" x="566.5" y="440.5"/>
<use href="#p" x="566.5" y="443.5"/>
<use href="#p" x="568.5" y="442.5"/>
<use href="#p" x="569.5" y="443.5"/>
<use href="#p" x="574.5" y="441.5"/>
<use href="#p" x="575.5" y="442.5"/>
<use href="#p" x="573.5" y="440.5"/>
<use href="#p" x="572.5" y="441.5"/>
<use href="#p" x="572.5" y="443.5"/>
<use href="#p" x="575.5" y="443.5"/>
<use href="#p" x="573.5" y="441.5"/>
<use href="#p" x="577.5" y="440.5"/>
<use href="#p" x="577.5" y="441.5"/>
<use href="#p" x="578.5" y="440.5"/>
<use href="#p" x="578.5" y="441.5"/>
<use href="#p" x="576.5" y="442.5"/>
<use href="#p" x="583.5" y="443.5"/>
<use href="#p" x="582.5" y="440.5"/>
<use href="#p" x="582.5" y="440.5"/>
<use href="#p" x="587.5" y="441.5"/>
<use href="#p" x="584.5" y="443.5"/>
<use href="#p" x="584.5" y="441.5"/>
<use href="#p" x="590.5" y="441.5"/>
<use href="#p" x="589.5" y="443.5"/>
<use href="#p" x="591.5" y="443.5"/>
<use href="#p" x="590.5" y="441.5"/>
<use href="#p" x="590.5" y="441.5"/>
<use href="#p" x="595.5" y="441.5"/>
<use href="#p" x="599.5" y="443.5"/>
<use href="#p" x="597.5" y="443.5"/>
<use href="#p" x="598.5" y="443.5"/>
<use href="#p" x="598.5" y="440.5"/>
<use href="#p" x="597.5" y="443.5"/>
<use href="#p" x="603.5" y="441.5"/>
<use href="#p" x="602.5" y="440.5"/>
<use href="#p" x="602.5" y="442.5"/>
<use href="#p" x="601.5" y="441.5"/>
<use href="#p" x="604.5" y="440.5"/>
<use href="#p" x="605.5" y="441.5"/>
<use href="#p" x="604.5" y="442.5"/>
<use href="#p" x="604.5" y="440.5"/>
<use href="#p" x="605.5" y="440.5"/>
<use href="#p" x="607.5" y="443.5"/>
<use href="#p" x="605.5" y="441.5"/>
<use href="#p" x="611.5" y="443.5"/>
<use href="#p" x="610.5" y="443.5"/>
<use href="#p" x="612.5" y="442.5"/>
<use href="#p" x="613.5" y="443.5"/>
<use href="#p" x="612.5" y="443.5"/>
<use href="#p" x="615.5" y="440.5"/>
<use href="#p" x="619.5" y="442.5"/>
<use href="#p" x="619.5" y="441.5"/>
<use href="#p" x="619.5" y="441.5"/>
<use href="#p" x="620.5" y="442.5"/>
<use href="#p" x="623.5" y="441.5"/>
<use href="#p" x="626.5" y="441.5"/>
<use href="#p" x="625.5" y="442.5"/>
<use href="#p" x="631.5" y="441.5"/>
<use href="#p" x="631.5" y="442.5"/>
<use href="#p" x="632.5" y="442.5"/>
<use href="#p" x="632.5" y="440.5"/>
<use href="#p" x="638.5" y="441.5"/>
<use href="#p" x="638.5" y="441.5"/>
<use href="#p" x="647.5" y="442.5"/>
<use href="#p" x="646.5" y="442.5"/>
<use href="#p" x="646.5" y="442.5"/>
<use href="#p" x="644.5" y="440.5"/>
<use href="#p" x="649.5" y="440.5"/>
<use href="#p" x="652.5" y="442.5"/>
<use href="#p" x="657.5" y="440.5"/>
<use href="#p" x="670.5" y="440.5"/>
<use href="#p" x="673.5" y="440.5"/>
<use href="#p" x="674.5" y="442.5"/>
<use href="#p" x="680.5" y="442.5"/>
<use href="#p" x="692.5" y="441.5"/>
<use href="#p" x="524.5" y="446.5"/>
<use href="#p" x="530.5" y="445.5"/>
<use href="#p" x="535.5" y="445.5"/>
<use href="#p" x="536.5" y="447.5"/>
<use href="#p" x="542.5" y="445.5"/>
<use href="#p" x="542.5" y="445.5"/>
<use href="#p" x="549.5" y="444.5"/>
<use href="#p" x="551.5" y="446.5"/>
<use href="#p" x="554.5" y="444.5"/>
<use href="#p" x="553.5" y="445.5"/>
<use href="#p" x="558.5" y="446.5"/>
<use href="#p" x="557.5" y="446.5"/>
<use href="#p" x="558.5" y="444.5"/>
<use href="#p" x="559.5" y="446.5"/>
<use href="#p" x="561.5" y="447.5"/>
<use href="#p" x="560.5" y="446.5"/>
<use href="#p" x="563.5" y="446.5"/>
<use href="#p" x="563.5" y="445.5"/>
<use href="#p" x="563.5" y="444.5"/>
<use href="#p" x="567.5" y="444.5"/>
<use href="#p" x="566.5" y="447.5"/>
<use href="#p" x="565.5" y="447.5"/>
<use href="#p" x="566.5" y="447.5"/>
<use href="#p" x="568.5" y="445.5"/>
<use href="#p" x="574.5" y="446.5"/>
<use href="#p" x="575.5" y="444.5"/>
<use href="#p" x="574.5" y="446.5"/>
<use href="#p" x="573.5" y="447.5"/>
<use href="#p" x="578.5" y="444.5"/>
<use href="#p" x="578.5" y="446.5"/>
<use href="#p" x="582.5" y="445.5"/>
<use href="#p" x="581.5" y="447.5"/>
<use href="#p" x="582.5" y="446.5"/>
<use href="#p" x="583.5" y="444.5"/>
<use href="#p" x="582.5" y="447.5"/>
<use href="#p" x="582.5" y="447.5"/>
<use href="#p" x="581.5" y="447.5"/>
<use href="#p" x="583.5" y="446.5"/>
<use href="#p" x="586.5" y="445.5"/>
<use href="#p" x="587.5" y="444.5"/>
<use href="#p" x="585.5" y="444.5"/>
<use href="#p" x="587.5" y="447.5"/>
<use href="#p" x="589.5" y="445.5"/>
<use href="#p" x="591.5" y="446.5"/>
<use href="#p" x="589.5" y="447.5"/>
<use href="#p" x="590.5" y="444.5"/>
<use href="#p" x="589.5" y="445.5"/>
<use href="#p" x="588.5" y="446.5"/>
<use href="#p" x="590.5" y="446.5"/>
<use href="#p" x="591.5" y="444.5"/>
<use href="#p" x="593.5" y="446.5"/>
<use href="#p" x="594.5" y="446.5"/>
<use href="#p" x="592.5" y="447.5"/>
<use href="#p" x="592.5" y="444.5"/>
<use href="#p" x="595.5" y="444.5"/>
<use href="#p" x="599.5" y="444.5"/>
<use href="#p" x="596.5" y="447.5"/>
<use href="#p" x="598.5" y="447.5"/>
<use href="#p" x="596.5" y="446.5"/>
<use href="#p" x="597.5" y="445.5"/>
<use href="#p" x="597.5" y="447.5"/>
<use href="#p" x="601.5" y="447.5"/>
<use href="#p" x="603.5" y="446.5"/>
<use href="#p" x="600.5" y="444.5"/>
<use href="#p" x="602.5" y="447.5"/>
<use href="#p" x="603.5" y="446.5"/>
<use href="#p" x="604.5" y="447.5"/>
<use href="#p" x="606.5" y="444.5"/>
<use href="#p" x="610.5" y="447.5"/>
<use href="#p" x="609.5" y="446.5"/>
<use href="#p" x="610.5" y="446.5"/>
<use href="#p" x="609.5" y="446.5"/>
<use href="#p" x="611.5" y="446.5"/>
<use href="#p" x="612.5" y="446.5"/>
<use href="#p" x="618.5" y="444.5"/>
<use href="#p" x="619.5" y="445.5"/>
<use href="#p" x="616.5" y="444.5"/>
<use href="#p" x="620.5" y="447.5"/>
<use href="#p" x="623.5" y="445.5"/>
<use href="#p" x="623.5" y="444.5"/>
<use href="#p" x="624.5" y="447.5"/>
<use href="#p" x="627.5" y="444.5"/>
<use href="#p" x="629.5" y="444.5"/>
<use href="#p" x="634.5" y="446.5"/>
<use href="#p" x="634.5" y="447.5"/>
<use href="#p" x="635.5" y="445.5"/>
<use href="#p" x="633.5" y="444.5"/>
<use href="#p" x="638.5" y="445.5"/>
<use href="#p" x="638.5" y="445.5"/>
<use href="#p" x="645.5" y="446.5"/>
<use href="#p" x="648.5" y="444.5"/>
<use href="#p" x="654.5" y="446.5"/>
<use href="#p" x="652.5" y="445.5"/>
<use href="#p" x="653.5" y="445.5"/>
<use href="#p" x="660.5" y="446.5"/>
<use href="#p" x="662.5" y="444.5"/>
<use href="#p" x="662.5" y="447.5"/>
<use href="#p" x="666.5" y="444.5"/>
<use href="#p" x="669.5" y="444.5"/>
<use href="#p" x="671.5" y="446.5"/>
<use href="#p" x="674.5" y="444.5"/>
<use href="#p" x="682.5" y="444.5"/>
<use href="#p" x="684.5" y="445.5"/>
<use href="#p" x="538.5" y="449.5"/>
<use href="#p" x="539.5" y="450.5"/>
<use href="#p" x="543.5" y="448.5"/>
<use href="#p" x="541.5" y="449.5"/>
<use href="#p" x="545.5" y="448.5"/>
<use href="#p" x="547.5" y="448.5"/>
<use href="#p" x="544.5" y="448.5"/>
<use href="#p" x="551.5" y="451.5"/>
<use href="#p" x="549.5" y="448.5"/>
<use href="#p" x="553.5" y="449.5"/>
<use href="#p" x="554.5" y="449.5"/>
<use href="#p" x="554.5" y="450.5"/>
<use href="#p" x="559.5" y="451.5"/>
<use href="#p" x="558.5" y="451.5"/>
<use href="#p" x="559.5" y="449.5"/>
<use href="#p" x="556.5" y="448.5"/>
<use href="#p" x="559.5" y="450.5"/>
<use href="#p" x="563.5" y="448.5"/>
<use href="#p" x="563.5" y="449.5"/>
<use href="#p" x="561.5" y="449.5"/>
<use href="#p" x="563.5" y="450.5"/>
<use href="#p" x="567.5" y="448.5"/>
<use href="#p" x="565.5" y="450.5"/>
<use href="#p" x="565.5" y="449.5"/>
<use href="#p" x="567.5" y="450.5"/>
<use href="#p" x="564.5" y="449.5"/>
<use href="#p" x="565.5" y="449.5"/>
<use href="#p" x="568.5" y="451.5"/>
<use href="#p" x="570.5" y="451.5"/>
<use href="#p" x="570.5" y="449.5"/>
<use href="#p" x="575.5" y="450.5"/>
<use href="#p" x="575.5" y="451.5"/>
<use href="#p" x="573.5" y="448.5"/>
<use href="#p" x="573.5" y="451.5"/>
<use href="#p" x="577.5" y="449.5"/>
<use href="#p" x="576.5" y="451.5"/>
<use href="#p" x="576.5" y="451.5"/>
<use href="#p" x="576.5" y="448.5"/>
<use href="#p" x="577.5" y="449.5"/>
<use href="#p" x="578.5" y="450.5"/>
<use href="#p" x="581.5" y="450.5"/>
<use href="#p" x="580.5" y="450.5"/>
<use href="#p" x="582.5" y="448.5"/>
<use href="#p" x="583.5" y="450.5"/>
<use href="#p" x="581.5" y="448.5"/>
<use href="#p" x="582.5" y="451.5"/>
<use href="#p" x="582.5" y="448.5"/>
<use href="#p" x="585.5" y="451.5"/>
<use href="#p" x="584.5" y="450.5"/>
<use href="#p" x="587.5" y="450.5"/>
<use href="#p" x="590.5" y="448.5"/>
<use href="#p" x="589.5" y="448.5"/>
<use href="#p" x="589.5" y="450.5"/>
<use href="#p" x="593.5" y="448.5"/>
<use href="#p" x="592.5" y="449.5"/>
<use href="#p" x="597.5" y="450.5"/>
<use href="#p" x="597.5" y="451.5"/>
<use href="#p" x="599.5" y="451.5"/>
<use href="#p" x="599.5" y="449.5"/>
<use href="#p" x="597.5" y="451.5"/>
<use href="#p" x="596.5" y="451.5"/>
<use href="#p" x="603.5" y="449.5"/>
<use href="#p" x="600.5" y="450.5"/>
<use href="#p" x="600.5" y="448.5"/>
<use href="#p" x="605.5" y="449.5"/>
<use href="#p" x="606.5" y="450.5"/>
<use href="#p" x="607.5" y="451.5"/>
<use href="#p" x="605.5" y="449.5"/>
<use href="#p" x="605.5" y="450.5"/>
<use href="#p" x="609.5" y="450.5"/>
<use href="#p" x="611.5" y="449.5"/>
<use href="#p" x="610.5" y="448.5"/>
<use href="#p" x="614.5" y="450.5"/>
<use href="#p" x="614.5" y="449.5"/>
<use href="#p" x="612.5" y="449.5"/>
<use href="#p" x="617.5" y="448.5"/>
<use href="#p" x="619.5" y="450.5"/>
<use href="#p" x="623.5" y="451.5"/>
<use href="#p" x="621.5" y="449.5"/>
<use href="#p" x="621.5" y="449.5"/>
<use href="#p" x="625.5" y="448.5"/>
<use href="#p" x="627.5" y="451.5"/>
<use href="#p" x="626.5" y="449.5"/>
<use href="#p" x="626.5" y="450.5"/>
<use href="#p" x="625.5" y="450.5"/>
<use href="#p" x="629.5" y="449.5"/>
<use href="#p" x="631.5" y="450.5"/>
<use href="#p" x="632.5" y="449.5"/>
<use href="#p" x="634.5" y="448.5"/>
<use href="#p" x="638.5" y="450.5"/>
<use href="#p" x="641.5" y="449.5"/>
<use href="#p" x="640.5" y="448.5"/>
<use href="#p" x="642.5" y="450.5"/>
<use href="#p" x="647.5" y="451.5"/>
<use href="#p" x="646.5" y="450.5"/>
<use href="#p" x="648.5" y="449.5"/>
<use href="#p" x="655.5" y="451.5"/>
<use href="#p" x="654.5" y="451.5"/>
<use href="#p" x="691.5" y="449.5"/>
<use href="#p" x="539.5" y="455.5"/>
<use href="#p" x="546.5" y="454.5"/>
<use href="#p" x="551.5" y="455.5"/>
<use href="#p" x="555.5" y="453.5"/>
<use href="#p" x="555.5" y="453.5"/>
<use href="#p" x="553.5" y="453.5"/>
<use href="#p" x="554.5" y="452.5"/>
<use href="#p" x="560.5" y="455.5"/>
<use href="#p" x="560.5" y="455.5"/>
<use href="#p" x="563.5" y="453.5"/>
<use href="#p" x="567.5" y="455.5"/>
<use href="#p" x="565.5" y="455.5"/>
<use href="#p" x="568.5" y="453.5"/>
<use href="#p" x="572.5" y="453.5"/>
<use href="#p" x="575.5" y="454.5"/>
<use href="#p" x="577.5" y="452.5"/>
<use href="#p" x="583.5" y="455.5"/>
<use href="#p" x="583.5" y="452.5"/>
<use href="#p" x="583.5" y="453.5"/>
<use href="#p" x="580.5" y="453.5"/>
<use href="#p" x="581.5" y="455.5"/>
<use href="#p" x="584.5" y="453.5"/>
<use href="#p" x="584.5" y="454.5"/>
<use href="#p" x="585.5" y="453.5"/>
<use href="#p" x="591.5" y="454.5"/>
<use href="#p" x="590.5" y="455.5"/>
<use href="#p" x="598.5" y="455.5"/>
<use href="#p" x="598.5" y="454.5"/>
<use href="#p" x="602.5" y="452.5"/>
<use href="#p" x="602.5" y="455.5"/>
<use href="#p" x="607.5" y="455.5"/>
<use href="#p" x="609.5" y="455.5"/>
<use href="#p" x="608.5" y="452.5"/>
<use href="#p" x="608.5" y="452.5"/>
<use href="#p" x="608.5" y="455.5"/>
<use href="#p" x="610.5" y="455.5"/>
<use href="#p" x="609.5" y="452.5"/>
<use href="#p" x="613.5" y="452.5"/>
<use href="#p" x="619.5" y="455.5"/>
<use href="#p" x="622.5" y="454.5"/>
<use href="#p" x="626.5" y="454.5"/>
<use href="#p" x="631.5" y="455.5"/>
<use href="#p" x="629.5" y="454.5"/>
<use href="#p" x="629.5" y="452.5"/>
<use href="#p" x="632.5" y="455.5"/>
<use href="#p" x="637.5" y="452.5"/>
<use href="#p" x="636.5" y="452.5"/>
<use href="#p" x="637.5" y="454.5"/>
<use href="#p" x="651.5" y="455.5"/>
<use href="#p" x="649.5" y="454.5"/>
<use href="#p" x="652.5" y="452.5"/>
<use href="#p" x="661.5" y="454.5"/>
<use href="#p" x="666.5" y="455.5"/>
<use href="#p" x="677.5" y="453.5"/>
<use href="#p" x="524.5" y="457.5"/>
<use href="#p" x="532.5" y="459.5"/>
<use href="#p" x="538.5" y="459.5"/>
<use href="#p" x="540.5" y="457.5"/>
<use href="#p" x="542.5" y="456.5"/>
<use href="#p" x="546.5" y="456.5"/>
<use href="#p" x="546.5" y="458.5"/>
<use href="#p" x="546.5" y="456.5"/>
<use href="#p" x="550.5" y="457.5"/>
<use href="#p" x="552.5" y="459.5"/>
<use href="#p" x="558.5" y="458.5"/>
<use href="#p" x="557.5" y="459.5"/>
<use href="#p" x="556.5" y="457.5"/>
<use href="#p" x="562.5" y="456.5"/>
<use href="#p" x="560.5" y="457.5"/>
<use href="#p" x="562.5" y="459.5"/>
<use href="#p" x="566.5" y="456.5"/>
<use href="#p" x="569.5" y="459.5"/>
<use href="#p" x="568.5" y="457.5"/>
<use href="#p" x="569.5" y="458.5"/>
<use href="#p" x="570.5" y="456.5"/>
<use href="#p" x="573.5" y="459.5"/>
<use href="#p" x="574.5" y="459.5"/>
<use href="#p" x="579.5" y="458.5"/>
<use href="#p" x="577.5" y="457.5"/>
<use href="#p" x="578.5" y="459.5"/>
<use href="#p" x="577.5" y="459.5"/>
<use href="#p" x="577.5" y="456.5"/>
<use href="#p" x="584.5" y="457.5"/>
<use href="#p" x="587.5" y="457.5"/>
<use href="#p" x="586.5" y="456.5"/>
<use href="#p" x="589.5" y="458.5"/>
<use href="#p" x="588.5" y="457.5"/>
<use href="#p" x="591.5" y="456.5"/>
<use href="#p" x="603.5" y="458.5"/>
<use href="#p" x="600.5" y="456.5"/>
<use href="#p" x="606.5" y="458.5"/>
<use href="#p" x="609.5" y="459.5"/>
<use href="#p" x="610.5" y="459.5"/>
<use href="#p" x="609.5" y="457.5"/>
<use href="#p" x="611.5" y="457.5"/>
<use href="#p" x="611.5" y="459.5"/>
<use href="#p" x="610.5" y="458.5"/>
<use href="#p" x="611.5" y="456.5"/>
<use href="#p" x="615.5" y="459.5"/>
<use href="#p" x="617.5" y="456.5"/>
<use href="#p" x="619.5" y="459.5"/>
<use href="#p" x="622.5" y="459.5"/>
<use href="#p" x="624.5" y="457.5"/>
<use href="#p" x="625.5" y="456.5"/>
<use href="#p" x="624.5" y="459.5"/>
<use href="#p" x="626.5" y="457.5"/>
<use href="#p" x="629.5" y="458.5"/>
<use href="#p" x="634.5" y="457.5"/>
<use href="#p" x="640.5" y="457.5"/>
<use href="#p" x="641.5" y="456.5"/>
<use href="#p" x="646.5" y="459.5"/>
<use href="#p" x="658.5" y="456.5"/>
<use href="#p" x="656.5" y="459.5"/>
<use href="#p" x="659.5" y="457.5"/>
<use href="#p" x="537.5" y="461.5"/>
<use href="#p" x="542.5" y="463.5"/>
<use href="#p" x="546.5" y="462.5"/>
<use href="#p" x="548.5" y="463.5"/>
<use href="#p" x="554.5" y="460.5"/>
<use href="#p" x="561.5" y="462.5"/>
<use href="#p" x="560.5" y="463.5"/>
<use href="#p" x="562.5" y="462.5"/>
<use href="#p" x="571.5" y="463.5"/>
<use href="#p" x="569.5" y="460.5"/>
<use href="#p" x="574.5" y="462.5"/>
<use href="#p" x="573.5" y="461.5"/>
<use href="#p" x="575.5" y="460.5"/>
<use href="#p" x="576.5" y="463.5"/>
<use href="#p" x="580.5" y="460.5"/>
<use href="#p" x="580.5" y="461.5"/>
<use href="#p" x="586.5" y="460.5"/>
<use href="#p" x="588.5" y="462.5"/>
<use href="#p" x="588.5" y="462.5"/>
<use href="#p" x="589.5" y="461.5"/>
<use href="#p" x="595.5" y="461.5"/>
<use href="#p" x="598.5" y="460.5"/>
<use href="#p" x="603.5" y="460.5"/>
<use href="#p" x="602.5" y="463.5"/>
<use href="#p" x="604.5" y="462.5"/>
<use href="#p" x="604.5" y="463.5"/>
<use href="#p" x="610.5" y="462.5"/>
<use href="#p" x="608.5" y="461.5"/>
<use href="#p" x="610.5" y="461.5"/>
<use href="#p" x="619.5" y="462.5"/>
<use href="#p" x="620.5" y="463.5"/>
<use href="#p" x="626.5" y="460.5"/>
<use href="#p" x="625.5" y="462.5"/>
<use href="#p" x="626.5" y="461.5"/>
<use href="#p" x="638.5" y="460.5"/>
<use href="#p" x="640.5" y="460.5"/>
<use href="#p" x="654.5" y="462.5"/>
<use href="#p" x="658.5" y="462.5"/>
<use href="#p" x="661.5" y="462.5"/>
<use href="#p" x="673.5" y="460.5"/>
<use href="#p" x="679.5" y="460.5"/>
<use href="#p" x="529.5" y="466.5"/>
<use href="#p" x="535.5" y="464.5"/>
<use href="#p" x="539.5" y="464.5"/>
<use href="#p" x="543.5" y="464.5"/>
<use href="#p" x="551.5" y="465.5"/>
<use href="#p" x="549.5" y="467.5"/>
<use href="#p" x="553.5" y="464.5"/>
<use href="#p" x="573.5" y="467.5"/>
<use href="#p" x="574.5" y="465.5"/>
<use href="#p" x="582.5" y="464.5"/>
<use href="#p" x="590.5" y="466.5"/>
<use href="#p" x="596.5" y="464.5"/>
<use href="#p" x="611.5" y="465.5"/>
<use href="#p" x="621.5" y="466.5"/>
<use href="#p" x="621.5" y="464.5"/>
<use href="#p" x="623.5" y="465.5"/>
<use href="#p" x="629.5" y="465.5"/>
<use href="#p" x="631.5" y="465.5"/>
<use href="#p" x="665.5" y="465.5"/>
<use href="#p" x="543.5" y="471.5"/>
<use href="#p" x="568.5" y="471.5"/>
<use href="#p" x="630.5" y="468.5"/>
<use href="#p" x="617.5" y="474.5"/>
<use href="#p" x="564.5" y="383.5"/>
<use href="#p" x="549.5" y="347.5"/>
<use href="#p" x="553.5" y="362.5"/>
<use href="#p" x="538.5" y="342.5"/>
<use href="#p" x="543.5" y="362.5"/>
<use href="#p" x="541.5" y="342.5"/>
<use href="#p" x="567.5" y="399.5"/>
<use href="#p" x="554.5" y="343.5"/>
<use href="#p" x="561.5" y="368.5"/>
<use href="#p" x="523.5" y="343.5"/>
<use href="#p" x="544.5" y="339.5"/>
<use href="#p" x="561.5" y="387.5"/>
<use href="#p" x="557.5" y="377.5"/>
<use href="#p" x="538.5" y="347.5"/>
<use href="#p" x="540.5" y="350.5"/>
<use href="#p" x="552.5" y="372.5"/>
<use href="#p" x="553.5" y="368.5"/>
<use href="#p" x="530.5" y="338.5"/>
<use href="#p" x="568.5" y="375.5"/>
<use href="#p" x="547.5" y="362.5"/>
<use href="#p" x="533.5" y="313.5"/>
<use href="#p" x="541.5" y="342.5"/>
<use href="#p" x="548.5" y="368.5"/>
<use href="#p" x="527.5" y="327.5"/>
<use href="#p" x="557.5" y="378.5"/>
<use href="#p" x="536.5" y="342.5"/>
<use href="#p" x="558.5" y="381.5"/>
<use href="#p" x="550.5" y="353.5"/>
<use href="#p" x="555.5" y="372.5"/>
<use href="#p" x="563.5" y="376.5"/>
<use href="#p" x="557.5" y="370.5"/>
<use href="#p" x="544.5" y="375.5"/>
<use href="#p" x="543.5" y="321.5"/>
<use href="#p" x="540.5" y="350.5"/>
<use href="#p" x="538.5" y="334.5"/>
<use href="#p" x="533.5" y="349.5"/>
<use href="#p" x="560.5" y="373.5"/>
<use href="#p" x="534.5" y="340.5"/>
<use href="#p" x="545.5" y="340.5"/>
<use href="#p" x="554.5" y="373.5"/>
<use href="#p" x="542.5" y="351.5"/>
<use href="#p" x="555.5" y="381.5"/>
<use href="#p" x="530.5" y="345.5"/>
<use href="#p" x="560.5" y="393.5"/>
<use href="#p" x="557.5" y="379.5"/>
<use href="#p" x="557.5" y="376.5"/>
<use href="#p" x="522.5" y="323.5"/>
<use href="#p" x="551.5" y="349.5"/>
<use href="#p" x="548.5" y="345.5"/>
<use href="#p" x="536.5" y="334.5"/>
<use href="#p" x="530.5" y="323.5"/>
<use href="#p" x="535.5" y="331.5"/>
<use href="#p" x="562.5" y="381.5"/>
<use href="#p" x="544.5" y="357.5"/>
<use href="#p" x="538.5" y="353.5"/>
<use href="#p" x="542.5" y="358.5"/>
<use href="#p" x="539.5" y="322.5"/>
<use href="#p" x="557.5" y="363.5"/>
<use href="#p" x="540.5" y="343.5"/>
<use href="#p" x="556.5" y="365.5"/>
<use href="#p" x="569.5" y="390.5"/>
<use href="#p" x="529.5" y="328.5"/>
<use href="#p" x="537.5" y="330.5"/>
<use href="#p" x="546.5" y="350.5"/>
<use href="#p" x="549.5" y="364.5"/>
<use href="#p" x="539.5" y="343.5"/>
<use href="#p" x="531.5" y="344.5"/>
<use href="#p" x="563.5" y="383.5"/>
<use href="#p" x="545.5" y="336.5"/>
<use href="#p" x="560.5" y="393.5"/>
<use href="#p" x="421.5" y="452.5"/>
<use href="#p" x="381.5" y="455.5"/>
<use href="#p" x="345.5" y="453.5"/>
<use href="#p" x="417.5" y="456.5"/>
<use href="#p" x="374.5" y="456.5"/>
<use href="#p" x="376.5" y="455.5"/>
<use href="#p" x="351.5" y="456.5"/>
<use href="#p" x="443.5" y="457.5"/>
<use href="#p" x="448.5" y="454.5"/>
<use href="#p" x="330.5" y="455.5"/>
<use href="#p" x="356.5" y="456.5"/>
<use href="#p" x="447.5" y="454.5"/>
<use href="#p" x="374.5" y="457.5"/>
<use href="#p" x="419.5" y="455.5"/>
<use href="#p" x="400.5" y="452.5"/>
<use href="#p" x="348.5" y="454.5"/>
<use href="#p" x="369.5" y="454.5"/>
<use href="#p" x="406.5" y="455.5"/>
<use href="#p" x="396.5" y="457.5"/>
<use href="#p" x="336.5" y="457.5"/>
<use href="#p" x="374.5" y="456.5"/>
<use href="#p" x="349.5" y="457.5"/>
<use href="#p" x="334.5" y="455.5"/>
<use href="#p" x="421.5" y="453.5"/>
<use href="#p" x="417.5" y="456.5"/>
<use href="#p" x="428.5" y="454.5"/>
<use href="#p" x="392.5" y="455.5"/>
<use href="#p" x="340.5" y="454.5"/>
<use href="#p" x="407.5" y="456.5"/>
<use href="#p" x="397.5" y="454.5"/>
<use href="#p" x="400.5" y="457.5"/>
<use href="#p" x="426.5" y="456.5"/>
<use href="#p" x="365.5" y="456.5"/>
<use href="#p" x="379.5" y="455.5"/>
<use href="#p" x="403.5" y="455.5"/>
<use href="#p" x="439.5" y="455.5"/>
<use href="#p" x="396.5" y="452.5"/>
<use href="#p" x="337.5" y="456.5"/>
<use href="#p" x="413.5" y="456.5"/>
<use href="#p" x="377.5" y="453.5"/>
<use href="#p" x="444.5" y="456.5"/>
<use href="#p" x="389.5" y="457.5"/>
<use href="#p" x="390.5" y="453.5"/>
<use href="#p" x="411.5" y="453.5"/>
<use href="#p" x="357.5" y="455.5"/>
<use href="#p" x="358.5" y="453.5"/>
<use href="#p" x="346.5" y="455.5"/>
<use href="#p" x="437.5" y="451.5"/>
<use href="#p" x="427.5" y="459.5"/>
<use href="#p" x="394.5" y="454.5"/>
<use href="#p" x="419.5" y="455.5"/>
<use href="#p" x="340.5" y="455.5"/>
<use href="#p" x="406.5" y="456.5"/>
<use href="#p" x="443.5" y="454.5"/>
<use href="#p" x="351.5" y="454.5"/>
<use href="#p" x="343.5" y="453.5"/>
<use href="#p" x="365.5" y="454.5"/>
<use href="#p" x="415.5" y="453.5"/>
<use href="#p" x="390.5" y="456.5"/>
<use href="#p" x="399.5" y="453.5"/>
<use href="#p" x="432.5" y="456.5"/>
<use href="#p" x="453.5" y="453.5"/>
<use href="#p" x="407.5" y="456.5"/>
<use href="#p" x="430.5" y="453.5"/>
<use href="#p" x="371.5" y="453.5"/>
<use href="#p" x="442.5" y="456.5"/>
<use href="#p" x="434.5" y="456.5"/>
<use href="#p" x="443.5" y="453.5"/>
<use href="#p" x="453.5" y="455.5"/>
<use href="#p" x="367.5" y="456.5"/>
<use href="#p" x="386.5" y="456.5"/>
<use href="#p" x="406.5" y="452.5"/>
<use href="#p" x="334.5" y="453.5"/>
<use href="#p" x="436.5" y="456.5"/>
<use href="#p" x="344.5" y="457.5"/>
<use href="#p" x="427.5" y="453.5"/>
<use href="#p" x="409.5" y="457.5"/>
<use href="#p" x="382.5" y="455.5"/>
<use href="#p" x="451.5" y="450.5"/>
<use href="#p" x="398.5" y="454.5"/>
<use href="#p" x="425.5" y="455.5"/>
<use href="#p" x="341.5" y="454.5"/>
<use href="#p" x="439.5" y="456.5"/>
<use href="#p" x="395.5" y="455.5"/>
<use href="#p" x="436.5" y="455.5"/>
<use href="#p" x="434.5" y="456.5"/>
<use href="#p" x="381.5" y="455.5"/>
<use href="#p" x="416.5" y="454.5"/>
<use href="#p" x="388.5" y="456.5"/>
<use href="#p" x="374.5" y="454.5"/>
<use href="#p" x="365.5" y="455.5"/>
<use href="#p" x="346.5" y="457.5"/>
<use href="#p" x="366.5" y="452.5"/>
<use href="#p" x="353.5" y="455.5"/>
<use href="#p" x="345.5" y="457.5"/>
<use href="#p" x="374.5" y="454.5"/>
<use href="#p" x="336.5" y="454.5"/>
<use href="#p" x="335.5" y="456.5"/>
<use href="#p" x="367.5" y="453.5"/>
<use href="#p" x="450.5" y="456.5"/>
<use href="#p" x="359.5" y="455.5"/>
<use href="#p" x="348.5" y="456.5"/>
<use href="#p" x="418.5" y="454.5"/>
<use href="#p" x="380.5" y="454.5"/>
<use href="#p" x="376.5" y="452.5"/>
<use href="#p" x="433.5" y="455.5"/>
<use href="#p" x="430.5" y="452.5"/>
<use href="#p" x="452.5" y="455.5"/>
<use href="#p" x="447.5" y="452.5"/>
<use href="#p" x="344.5" y="454.5"/>
<use href="#p" x="388.5" y="453.5"/>
<use href="#p" x="399.5" y="455.5"/>
<use href="#p" x="445.5" y="454.5"/>
<use href="#p" x="432.5" y="456.5"/>
<use href="#p" x="392.5" y="451.5"/>
<use href="#p" x="326.5" y="454.5"/>
<use href="#p" x="382.5" y="455.5"/>
<use href="#p" x="369.5" y="453.5"/>
<use href="#p" x="339.5" y="454.5"/>
<use href="#p" x="342.5" y="453.5"/>
<use href="#p" x="326.5" y="453.5"/>
<use href="#p" x="424.5" y="454.5"/>
<use href="#p" x="402.5" y="457.5"/>
<use href="#p" x="367.5" y="455.5"/>
<use href="#p" x="416.5" y="453.5"/>
<use href="#p" x="361.5" y="452.5"/>
<use href="#p" x="381.5" y="453.5"/>
<use href="#p" x="369.5" y="456.5"/>
<use href="#p" x="334.5" y="455.5"/>
<use href="#p" x="355.5" y="456.5"/>
<use href="#p" x="398.5" y="453.5"/>
<use href="#p" x="352.5" y="457.5"/>
<use href="#p" x="399.5" y="451.5"/>
<use href="#p" x="422.5" y="453.5"/>
<use href="#p" x="438.5" y="453.5"/>
<use href="#p" x="330.5" y="454.5"/>
<use href="#p" x="389.5" y="454.5"/>
<use href="#p" x="380.5" y="455.5"/>
<use href="#p" x="388.5" y="449.5"/>
<use href="#p" x="336.5" y="456.5"/>
<use href="#p" x="393.5" y="454.5"/>
<use href="#p" x="381.5" y="456.5"/>
<use href="#p" x="441.5" y="455.5"/>
<use href="#p" x="363.5" y="454.5"/>
<use href="#p" x="402.5" y="454.5"/>
<use href="#p" x="359.5" y="453.5"/>
<use href="#p" x="412.5" y="453.5"/>
<use href="#p" x="443.5" y="455.5"/>
<use href="#p" x="360.5" y="456.5"/>
<use href="#p" x="413.5" y="453.5"/>
<use href="#p" x="371.5" y="454.5"/>
<use href="#p" x="398.5" y="457.5"/>
<use href="#p" x="335.5" y="456.5"/>
<use href="#p" x="328.5" y="457.5"/>
<use href="#p" x="388.5" y="457.5"/>
<use href="#p" x="364.5" y="456.5"/>
<use href="#p" x="405.5" y="453.5"/>
<use href="#p" x="330.5" y="457.5"/>
<use href="#p" x="450.5" y="455.5"/>
<use href="#p" x="335.5" y="455.5"/>
<use href="#p" x="497.5" y="456.5"/>
<use href="#p" x="454.5" y="454.5"/>
<use href="#p" x="526.5" y="455.5"/>
<use href="#p" x="524.5" y="456.5"/>
<use href="#p" x="507.5" y="457.5"/>
<use href="#p" x="456.5" y="453.5"/>
<use href="#p" x="511.5" y="455.5"/>
<use href="#p" x="525.5" y="453.5"/>
<use href="#p" x="517.5" y="451.5"/>
<use href="#p" x="516.5" y="454.5"/>
<use href="#p" x="477.5" y="451.5"/>
<use href="#p" x="512.5" y="453.5"/>
<use href="#p" x="534.5" y="456.5"/>
<use href="#p" x="485.5" y="455.5"/>
<use href="#p" x="508.5" y="455.5"/>
<use href="#p" x="519.5" y="455.5"/>
<use href="#p" x="496.5" y="456.5"/>
<use href="#p" x="455.5" y="459.5"/>
<use href="#p" x="516.5" y="457.5"/>
<use href="#p" x="496.5" y="453.5"/>
<use href="#p" x="475.5" y="454.5"/>
<use href="#p" x="540.5" y="454.5"/>
<use href="#p" x="502.5" y="453.5"/>
<use href="#p" x="541.5" y="456.5"/>
<use href="#p" x="464.5" y="455.5"/>
<use href="#p" x="477.5" y="454.5"/>
<use href="#p" x="476.5" y="454.5"/>
<use href="#p" x="479.5" y="453.5"/>
<use href="#p" x="501.5" y="455.5"/>
<use href="#p" x="492.5" y="454.5"/>
<use href="#p" x="486.5" y="455.5"/>
<use href="#p" x="528.5" y="451.5"/>
<use href="#p" x="489.5" y="457.5"/>
<use href="#p" x="502.5" y="453.5"/>
<use href="#p" x="536.5" y="456.5"/>
<use href="#p" x="521.5" y="455.5"/>
<use href="#p" x="514.5" y="458.5"/>
<use href="#p" x="512.5" y="454.5"/>
<use href="#p" x="492.5" y="451.5"/>
<use href="#p" x="477.5" y="457.5"/>
<use href="#p" x="476.5" y="455.5"/>
<use href="#p" x="530.5" y="455.5"/>
<use href="#p" x="482.5" y="452.5"/>
<use href="#p" x="476.5" y="458.5"/>
<use href="#p" x="534.5" y="453.5"/>
<use href="#p" x="540.5" y="457.5"/>
<use href="#p" x="502.5" y="456.5"/>
<use href="#p" x="478.5" y="454.5"/>
<use href="#p" x="523.5" y="454.5"/>
<use href="#p" x="496.5" y="451.5"/>
<use href="#p" x="537.5" y="459.5"/>
<use href="#p" x="473.5" y="456.5"/>
<use href="#p" x="516.5" y="458.5"/>
<use href="#p" x="506.5" y="453.5"/>
<use href="#p" x="523.5" y="452.5"/>
<use href="#p" x="470.5" y="456.5"/>
<use href="#p" x="466.5" y="455.5"/>
<use href="#p" x="529.5" y="453.5"/>
<use href="#p" x="460.5" y="456.5"/>
<use href="#p" x="501.5" y="457.5"/>
<use href="#p" x="466.5" y="454.5"/>
<use href="#p" x="476.5" y="453.5"/>
<use href="#p" x="476.5" y="451.5"/>
<use href="#p" x="485.5" y="451.5"/>
<use href="#p" x="474.5" y="453.5"/>
<use href="#p" x="515.5" y="453.5"/>
<use href="#p" x="492.5" y="455.5"/>
<use href="#p" x="530.5" y="453.5"/>
<use href="#p" x="537.5" y="457.5"/>
<use href="#p" x="474.5" y="454.5"/>
<use href="#p" x="515.5" y="457.5"/>
<use href="#p" x="480.5" y="455.5"/>
<use href="#p" x="533.5" y="459.5"/>
<use href="#p" x="493.5" y="456.5"/>
<use href="#p" x="482.5" y="450.5"/>
<use href="#p" x="532.5" y="452.5"/>
<use href="#p" x="493.5" y="454.5"/>
<use href="#p" x="507.5" y="455.5"/>
<use href="#p" x="471.5" y="456.5"/>
<use href="#p" x="459.5" y="456.5"/>
<use href="#p" x="486.5" y="452.5"/>
<use href="#p" x="482.5" y="454.5"/>
<use href="#p" x="515.5" y="454.5"/>
<use href="#p" x="482.5" y="456.5"/>
<use href="#p" x="493.5" y="457.5"/>
<use href="#p" x="535.5" y="456.5"/>
<use href="#p" x="491.5" y="453.5"/>
<use href="#p" x="504.5" y="453.5"/>
<use href="#p" x="458.5" y="456.5"/>
<use href="#p" x="533.5" y="455.5"/>
<use href="#p" x="456.5" y="454.5"/>
<use href="#p" x="454.5" y="454.5"/>
<use href="#p" x="467.5" y="455.5"/>
<use href="#p" x="495.5" y="454.5"/>
<use href="#p" x="521.5" y="454.5"/>
<use href="#p" x="535.5" y="453.5"/>
<use href="#p" x="504.5" y="455.5"/>
<use href="#p" x="529.5" y="456.5"/>
<use href="#p" x="474.5" y="453.5"/>
<use href="#p" x="506.5" y="457.5"/>
<use href="#p" x="489.5" y="455.5"/>
<use href="#p" x="492.5" y="455.5"/>
<use href="#p" x="511.5" y="455.5"/>
<use href="#p" x="490.5" y="454.5"/>
<use href="#p" x="467.5" y="456.5"/>
<use href="#p" x="500.5" y="453.5"/>
<use href="#p" x="522.5" y="455.5"/>
<use href="#p" x="524.5" y="455.5"/>
<use href="#p" x="458.5" y="453.5"/>
<use href="#p" x="532.5" y="454.5"/>
<use href="#p" x="531.5" y="454.5"/>
<use href="#p" x="464.5" y="453.5"/>
<use href="#p" x="480.5" y="456.5"/>
<use href="#p" x="525.5" y="453.5"/>
<use href="#p" x="490.5" y="455.5"/>
<use href="#p" x="537.5" y="457.5"/>
<use href="#p" x="535.5" y="454.5"/>
<use href="#p" x="544.5" y="454.5"/>
<use href="#p" x="489.5" y="454.5"/>
<use href="#p" x="476.5" y="456.5"/>
<use href="#p" x="457.5" y="453.5"/>
<use href="#p" x="534.5" y="456.5"/>
<use href="#p" x="519.5" y="451.5"/>
<use href="#p" x="472.5" y="454.5"/>
<use href="#p" x="501.5" y="455.5"/>
<use href="#p" x="469.5" y="455.5"/>
<use href="#p" x="467.5" y="456.5"/>
<use href="#p" x="510.5" y="456.5"/>
<use href="#p" x="543.5" y="452.5"/>
<use href="#p" x="471.5" y="458.5"/>
<use href="#p" x="462.5" y="453.5"/>
<use href="#p" x="510.5" y="452.5"/>
<use href="#p" x="483.5" y="451.5"/>
<use href="#p" x="483.5" y="454.5"/>
<use href="#p" x="537.5" y="454.5"/>
<use href="#p" x="469.5" y="454.5"/>
<use href="#p" x="508.5" y="453.5"/>
<use href="#p" x="476.5" y="453.5"/>
<use href="#p" x="492.5" y="454.5"/>
<use href="#p" x="460.5" y="453.5"/>
<use href="#p" x="514.5" y="456.5"/>
<use href="#p" x="486.5" y="458.5"/>
<use href="#p" x="502.5" y="455.5"/>
<use href="#p" x="466.5" y="452.5"/>
<use href="#p" x="501.5" y="457.5"/>
<use href="#p" x="461.5" y="454.5"/>
<use href="#p" x="535.5" y="454.5"/>
<use href="#p" x="539.5" y="454.5"/>
<use href="#p" x="473.5" y="454.5"/>
<use href="#p" x="473.5" y="453.5"/>
<use href="#p" x="473.5" y="452.5"/>
<use href="#p" x="484.5" y="453.5"/>
<use href="#p" x="538.5" y="453.5"/>
<use href="#p" x="510.5" y="454.5"/>
<use href="#p" x="503.5" y="455.5"/>
<use href="#p" x="532.5" y="451.5"/>
<use href="#p" x="457.5" y="455.5"/>
<use href="#p" x="520.5" y="454.5"/>
<use href="#p" x="458.5" y="455.5"/>
<use href="#p" x="471.5" y="456.5"/>
<use href="#p" x="513.5" y="453.5"/>
<use href="#p" x="540.5" y="453.5"/>
<use href="#p" x="459.5" y="454.5"/>
<use href="#p" x="480.5" y="454.5"/>
<use href="#p" x="491.5" y="455.5"/>
<use href="#p" x="501.5" y="452.5"/>
<use href="#p" x="524.5" y="453.5"/>
<use href="#p" x="495.5" y="456.5"/>
<use href="#p" x="534.5" y="455.5"/>
<use href="#p" x="488.5" y="453.5"/>
<use href="#p" x="492.5" y="454.5"/>
<use href="#p" x="455.5" y="457.5"/>
<use href="#p" x="539.5" y="455.5"/>
<use href="#p" x="533.5" y="456.5"/>
<use href="#p" x="461.5" y="453.5"/>
<use href="#p" x="470.5" y="455.5"/>
<use href="#p" x="472.5" y="455.5"/>
<use href="#p" x="532.5" y="456.5"/>
<use href="#p" x="539.5" y="454.5"/>
<use href="#p" x="484.5" y="453.5"/>
<use href="#p" x="477.5" y="453.5"/>
<use href="#p" x="484.5" y="457.5"/>
<use href="#p" x="524.5" y="454.5"/>
<use href="#p" x="493.5" y="455.5"/>
<use href="#p" x="494.5" y="454.5"/>
<use href="#p" x="481.5" y="454.5"/>
<use href="#p" x="471.5" y="455.5"/>
<use href="#p" x="528.5" y="454.5"/>
<use href="#p" x="504.5" y="454.5"/>
<use href="#p" x="518.5" y="453.5"/>
<use href="#p" x="515.5" y="453.5"/>
<use href="#p" x="542.5" y="452.5"/>
<use href="#p" x="502.5" y="456.5"/>
<use href="#p" x="468.5" y="455.5"/>
<use href="#p" x="500.5" y="455.5"/>
<use href="#p" x="525.5" y="457.5"/>
<use href="#p" x="517.5" y="455.5"/>
<use href="#p" x="540.5" y="457.5"/>
<use href="#p" x="514.5" y="454.5"/>
<use href="#p" x="529.5" y="455.5"/>
<use href="#p" x="512.5" y="452.5"/>
<use href="#p" x="538.5" y="455.5"/>
<use href="#p" x="470.5" y="453.5"/>
<use href="#p" x="455.5" y="456.5"/>
<use href="#p" x="498.5" y="456.5"/>
<use href="#p" x="507.5" y="454.5"/>
<use href="#p" x="516.5" y="456.5"/>
<use href="#p" x="514.5" y="452.5"/>
<use href="#p" x="522.5" y="456.5"/>
<use href="#p" x="534.5" y="455.5"/>
<use href="#p" x="507.5" y="455.5"/>
<use href="#p" x="494.5" y="456.5"/>
<use href="#p" x="488.5" y="457.5"/>
<use href="#p" x="488.5" y="456.5"/>
<use href="#p" x="459.5" y="455.5"/>
<use href="#p" x="460.5" y="454.5"/>
<use href="#p" x="543.5" y="455.5"/>
<use href="#p" x="533.5" y="454.5"/>
<use href="#p" x="532.5" y="456.5"/>
<use href="#p" x="462.5" y="457.5"/>
<use href="#p" x="527.5" y="454.5"/>
<use href="#p" x="538.5" y="456.5"/>
<use href="#p" x="491.5" y="453.5"/>
<use href="#p" x="533.5" y="454.5"/>
<use href="#p" x="529.5" y="457.5"/>
<use href="#p" x="529.5" y="453.5"/>
<use href="#p" x="495.5" y="457.5"/>
<use href="#p" x="466.5" y="455.5"/>
<use href="#p" x="503.5" y="454.5"/>
<use href="#p" x="524.5" y="453.5"/>
<use href="#p" x="516.5" y="455.5"/>
<use href="#p" x="497.5" y="452.5"/>
<use href="#p" x="506.5" y="453.5"/>
<use href="#p" x="495.5" y="455.5"/>
<use href="#p" x="475.5" y="454.5"/>
<use href="#p" x="473.5" y="456.5"/>
<use href="#p" x="505.5" y="456.5"/>
<use href="#p" x="477.5" y="455.5"/>
<use href="#p" x="457.5" y="457.5"/>
<use href="#p" x="509.5" y="455.5"/>
<use href="#p" x="512.5" y="456.5"/>
<use href="#p" x="507.5" y="454.5"/>
<use href="#p" x="465.5" y="455.5"/>
<use href="#p" x="534.5" y="455.5"/>
<use href="#p" x="523.5" y="454.5"/>
<use href="#p" x="521.5" y="451.5"/>
<use href="#p" x="541.5" y="455.5"/>
<use href="#p" x="488.5" y="454.5"/>
<use href="#p" x="489.5" y="452.5"/>
<use href="#p" x="514.5" y="454.5"/>
<use href="#p" x="492.5" y="453.5"/>
<use href="#p" x="460.5" y="451.5"/>
<use href="#p" x="465.5" y="454.5"/>
<use href="#p" x="527.5" y="456.5"/>
<use href="#p" x="529.5" y="455.5"/>
<use href="#p" x="494.5" y="455.5"/>
<use href="#p" x="471.5" y="451.5"/>
<use href="#p" x="496.5" y="452.5"/>
<use href="#p" x="505.5" y="454.5"/>
<use href="#p" x="542.5" y="454.5"/>
<use href="#p" x="553.5" y="454.5"/>
<use href="#p" x="607.5" y="459.5"/>
<use href="#p" x="545.5" y="454.5"/>
<use href="#p" x="578.5" y="459.5"/>
<use href="#p" x="547.5" y="455.5"/>
<use href="#p" x="561.5" y="454.5"/>
<use href="#p" x="557.5" y="458.5"/>
<use href="#p" x="600.5" y="455.5"/>
<use href="#p" x="653.5" y="446.5"/>
<use href="#p" x="561.5" y="452.5"/>
<use href="#p" x="571.5" y="453.5"/>
<use href="#p" x="639.5" y="455.5"/>
<use href="#p" x="584.5" y="458.5"/>
<use href="#p" x="552.5" y="456.5"/>
<use href="#p" x="657.5" y="454.5"/>
<use href="#p" x="559.5" y="452.5"/>
<use href="#p" x="601.5" y="457.5"/>
<use href="#p" x="545.5" y="457.5"/>
<use href="#p" x="671.5" y="465.5"/>
<use href="#p" x="646.5" y="454.5"/>
<use href="#p" x="628.5" y="450.5"/>
<use href="#p" x="608.5" y="456.5"/>
<use href="#p" x="583.5" y="454.5"/>
<use href="#p" x="548.5" y="455.5"/>
<use href="#p" x="573.5" y="458.5"/>
<use href="#p" x="699.5" y="453.5"/>
<use href="#p" x="651.5" y="456.5"/>
<use href="#p" x="628.5" y="450.5"/>
<use href="#p" x="545.5" y="455.5"/>
<use href="#p" x="595.5" y="455.5"/>
<use href="#p" x="546.5" y="455.5"/>
<use href="#p" x="704.5" y="457.5"/>
<use href="#p" x="573.5" y="456.5"/>
<use href="#p" x="627.5" y="462.5"/>
<use href="#p" x="577.5" y="455.5"/>
<use href="#p" x="557.5" y="459.5"/>
<use href="#p" x="546.5" y="453.5"/>
<use href="#p" x="644.5" y="459.5"/>
<use href="#p" x="549.5" y="453.5"/>
<use href="#p" x="652.5" y="457.5"/>
<use href="#p" x="647.5" y="448.5"/>
<use href="#p" x="606.5" y="457.5"/>
<use href="#p" x="552.5" y="456.5"/>
<use href="#p" x="644.5" y="457.5"/>
<use href="#p" x="545.5" y="456.5"/>
<use href="#p" x="680.5" y="471.5"/>
<use href="#p" x="607.5" y="458.5"/>
<use href="#p" x="562.5" y="456.5"/>
<use href="#p" x="567.5" y="450.5"/>
<use href="#p" x="552.5" y="455.5"/>
<use href="#p" x="633.5" y="457.5"/>
<use href="#p" x="609.5" y="456.5"/>
<use href="#p" x="671.5" y="454.5"/>
<use href="#p" x="697.5" y="463.5"/>
<use href="#p" x="621.5" y="453.5"/>
<use href="#p" x="658.5" y="458.5"/>
<use href="#p" x="641.5" y="452.5"/>
<use href="#p" x="633.5" y="450.5"/>
<use href="#p" x="605.5" y="457.5"/>
<use href="#p" x="547.5" y="455.5"/>
<use href="#p" x="605.5" y="458.5"/>
<use href="#p" x="696.5" y="452.5"/>
<use href="#p" x="593.5" y="450.5"/>
<use href="#p" x="701.5" y="454.5"/>
<use href="#p" x="607.5" y="448.5"/>
<use href="#p" x="590.5" y="458.5"/>
<use href="#p" x="629.5" y="450.5"/>
<use href="#p" x="547.5" y="454.5"/>
<use href="#p" x="636.5" y="449.5"/>
<use href="#p" x="685.5" y="447.5"/>
<use href="#p" x="638.5" y="449.5"/>
<use href="#p" x="561.5" y="454.5"/>
<use href="#p" x="545.5" y="454.5"/>
<use href="#p" x="590.5" y="452.5"/>
<use href="#p" x="555.5" y="456.5"/>
<use href="#p" x="591.5" y="459.5"/>
<use href="#p" x="708.5" y="450.5"/>
<use href="#p" x="579.5" y="454.5"/>
<use href="#p" x="545.5" y="455.5"/>
<use href="#p" x="658.5" y="455.5"/>
<use href="#p" x="547.5" y="456.5"/>
<use href="#p" x="571.5" y="456.5"/>
<use href="#p" x="552.5" y="454.5"/>
<use href="#p" x="547.5" y="455.5"/>
<use href="#p" x="549.5" y="455.5"/>
<use href="#p" x="634.5" y="457.5"/>
<use href="#p" x="615.5" y="456.5"/>
<use href="#p" x="633.5" y="454.5"/>
<use href="#p" x="553.5" y="456.5"/>
<use href="#p" x="565.5" y="455.5"/>
<use href="#p" x="705.5" y="464.5"/>
<use href="#p" x="545.5" y="453.5"/>
<use href="#p" x="546.5" y="457.5"/>
<use href="#p" x="703.5" y="456.5"/>
<use href="#p" x="554.5" y="454.5"/>
<use href="#p" x="618.5" y="459.5"/>
<use href="#p" x="703.5" y="454.5"/>
<use href="#p" x="645.5" y="459.5"/>
<use href="#p" x="585.5" y="454.5"/>
<use href="#p" x="560.5" y="457.5"/>
<use href="#p" x="580.5" y="456.5"/>
<use href="#p" x="561.5" y="455.5"/>
<use href="#p" x="631.5" y="454.5"/>
<use href="#p" x="646.5" y="460.5"/>
<use href="#p" x="555.5" y="456.5"/>
<use href="#p" x="651.5" y="458.5"/>
<use href="#p" x="628.5" y="459.5"/>
<use href="#p" x="606.5" y="455.5"/>
<use href="#p" x="558.5" y="458.5"/>
<use href="#p" x="636.5" y="454.5"/>
<use href="#p" x="559.5" y="456.5"/>
<use href="#p" x="553.5" y="452.5"/>
<use href="#p" x="553.5" y="457.5"/>
<use href="#p" x="660.5" y="451.5"/>
<use href="#p" x="703.5" y="456.5"/>
<use href="#p" x="557.5" y="454.5"/>
<use href="#p" x="649.5" y="449.5"/>
<use href="#p" x="653.5" y="448.5"/>
<use href="#p" x="575.5" y="452.5"/>
<use href="#p" x="709.5" y="449.5"/>
<use href="#p" x="714.5" y="448.5"/>
<use href="#p" x="638.5" y="455.5"/>
<use href="#p" x="608.5" y="453.5"/>
<use href="#p" x="557.5" y="455.5"/>
<use href="#p" x="614.5" y="451.5"/>
<use href="#p" x="655.5" y="458.5"/>
<use href="#p" x="556.5" y="455.5"/>
<use href="#p" x="574.5" y="459.5"/>
<use href="#p" x="581.5" y="455.5"/>
<use href="#p" x="584.5" y="455.5"/>
<use href="#p" x="557.5" y="460.5"/>
<use href="#p" x="695.5" y="453.5"/>
<use href="#p" x="608.5" y="451.5"/>
<use href="#p" x="653.5" y="452.5"/>
<use href="#p" x="667.5" y="460.5"/>
<use href="#p" x="548.5" y="453.5"/>
<use href="#p" x="650.5" y="450.5"/>
<use href="#p" x="659.5" y="458.5"/>
<use href="#p" x="698.5" y="451.5"/>
<use href="#p" x="719.5" y="447.5"/>
<use href="#p" x="545.5" y="455.5"/>
<use href="#p" x="617.5" y="453.5"/>
<use href="#p" x="567.5" y="452.5"/>
<use href="#p" x="577.5" y="459.5"/>
<use href="#p" x="694.5" y="446.5"/>
<use href="#p" x="632.5" y="449.5"/>
<use href="#p" x="628.5" y="447.5"/>
<use href="#p" x="545.5" y="454.5"/>
<use href="#p" x="551.5" y="456.5"/>
<use href="#p" x="710.5" y="468.5"/>
<use href="#p" x="557.5" y="455.5"/>
<use href="#p" x="564.5" y="457.5"/>
<use href="#p" x="562.5" y="457.5"/>
<use href="#p" x="554.5" y="458.5"/>
<use href="#p" x="626.5" y="457.5"/>
<use href="#p" x="593.5" y="453.5"/>
<use href="#p" x="545.5" y="456.5"/>
<use href="#p" x="629.5" y="458.5"/>
<use href="#p" x="561.5" y="457.5"/>
<use href="#p" x="719.5" y="451.5"/>
<use href="#p" x="605.5" y="451.5"/>
<use href="#p" x="634.5" y="452.5"/>
<use href="#p" x="622.5" y="453.5"/>
<use href="#p" x="653.5" y="453.5"/>
<use href="#p" x="658.5" y="451.5"/>
<use href="#p" x="582.5" y="453.5"/>
<use href="#p" x="570.5" y="458.5"/>
<use href="#p" x="687.5" y="457.5"/>
<use href="#p" x="615.5" y="460.5"/>
<use href="#p" x="546.5" y="455.5"/>
<use href="#p" x="525.5" y="439.5"/>
<use href="#p" x="525.5" y="445.5"/>
<use href="#p" x="523.5" y="454.5"/>
<use href="#p" x="513.5" y="444.5"/>
<use href="#p" x="526.5" y="445.5"/>
<use href="#p" x="525.5" y="451.5"/>
<use href="#p" x="524.5" y="440.5"/>
<use href="#p" x="526.5" y="439.5"/>
<use href="#p" x="522.5" y="452.5"/>
<use href="#p" x="520.5" y="443.5"/>
<use href="#p" x="518.5" y="438.5"/>
<use href="#p" x="526.5" y="442.5"/>
<use href="#p" x="529.5" y="440.5"/>
<use href="#p" x="516.5" y="450.5"/>
<use href="#p" x="527.5" y="444.5"/>
<use href="#p" x="517.5" y="453.5"/>
<use href="#p" x="527.5" y="447.5"/>
<use href="#p" x="517.5" y="445.5"/>
<use href="#p" x="527.5" y="441.5"/>
<use href="#p" x="526.5" y="454.5"/>
<use href="#p" x="523.5" y="448.5"/>
<use href="#p" x="523.5" y="441.5"/>
<use href="#p" x="526.5" y="440.5"/>
<use href="#p" x="532.5" y="454.5"/>
<use href="#p" x="532.5" y="454.5"/>
<use href="#p" x="520.5" y="450.5"/>
<use href="#p" x="529.5" y="447.5"/>
<use href="#p" x="529.5" y="450.5"/>
<use href="#p" x="334.5" y="440.5"/>
<use href="#p" x="334.5" y="452.5"/>
<use href="#p" x="329.5" y="450.5"/>
<use href="#p" x="322.5" y="452.5"/>
<use href="#p" x="327.5" y="450.5"/>
<use href="#p" x="327.5" y="443.5"/>
<use href="#p" x="327.5" y="444.5"/>
<use href="#p" x="325.5" y="451.5"/>
<use href="#p" x="328.5" y="453.5"/>
<use href="#p" x="323.5" y="444.5"/>
<use href="#p" x="331.5" y="450.5"/>
<use href="#p" x="327.5" y="442.5"/>
<use href="#p" x="302.5" y="375.5"/>
<use href="#p" x="438.5" y="385.5"/>
<use href="#p" x="444.5" y="391.5"/>
<use href="#p" x="392.5" y="420.5"/>
<use href="#p" x="412.5" y="430.5"/>
<use href="#p" x="384.5" y="438.5"/>
<use href="#p" x="424.5" y="446.5"/>
<use href="#p" x="421.5" y="456.5"/>
<use href="#p" x="451.5" y="455.5"/>
<use href="#p" x="441.5" y="454.5"/>
<use href="#p" x="357.5" y="455.5"/>
<use href="#p" x="369.5" y="455.5"/>
<use href="#p" x="395.5" y="457.5"/>
<use href="#p" x="442.5" y="458.5"/>
<use href="#p" x="392.5" y="453.5"/>
<use href="#p" x="434.5" y="454.5"/>
<use href="#p" x="435.5" y="454.5"/>
<use href="#p" x="422.5" y="455.5"/>
<use href="#p" x="390.5" y="455.5"/>
<use href="#p" x="409.5" y="454.5"/>
<use href="#p" x="340.5" y="455.5"/>
<use href="#p" x="425.5" y="454.5"/>
<use href="#p" x="423.5" y="455.5"/>
<use href="#p" x="430.5" y="451.5"/>
<use href="#p" x="371.5" y="456.5"/>
<use href="#p" x="382.5" y="455.5"/>
<use href="#p" x="371.5" y="453.5"/>
<use href="#p" x="436.5" y="457.5"/>
<use href="#p" x="393.5" y="456.5"/>
<use href="#p" x="433.5" y="453.5"/>
<use href="#p" x="389.5" y="455.5"/>
<use href="#p" x="440.5" y="454.5"/>
<use href="#p" x="447.5" y="455.5"/>
<use href="#p" x="436.5" y="454.5"/>
<use href="#p" x="403.5" y="456.5"/>
<use href="#p" x="375.5" y="455.5"/>
<use href="#p" x="436.5" y="452.5"/>
<use href="#p" x="375.5" y="453.5"/>
<use href="#p" x="362.5" y="456.5"/>
<use href="#p" x="433.5" y="454.5"/>
<use href="#p" x="395.5" y="454.5"/>
<use href="#p" x="445.5" y="454.5"/>
<use href="#p" x="365.5" y="455.5"/>
<use href="#p" x="399.5" y="454.5"/>
<use href="#p" x="424.5" y="454.5"/>
<use href="#p" x="436.5" y="452.5"/>
<use href="#p" x="411.5" y="456.5"/>
<use href="#p" x="409.5" y="451.5"/>
<use href="#p" x="412.5" y="455.5"/>
<use href="#p" x="402.5" y="454.5"/>
<use href="#p" x="420.5" y="456.5"/>
<use href="#p" x="405.5" y="455.5"/>
<use href="#p" x="405.5" y="454.5"/>
<use href="#p" x="360.5" y="452.5"/>
<use href="#p" x="449.5" y="456.5"/>
<use href="#p" x="394.5" y="454.5"/>
<use href="#p" x="351.5" y="454.5"/>
<use href="#p" x="346.5" y="453.5"/>
<use href="#p" x="438.5" y="453.5"/>
<use href="#p" x="433.5" y="454.5"/>
<use href="#p" x="432.5" y="455.5"/>
<use href="#p" x="383.5" y="455.5"/>
<use href="#p" x="438.5" y="453.5"/>
<use href="#p" x="374.5" y="452.5"/>
<use href="#p" x="365.5" y="457.5"/>
<use href="#p" x="412.5" y="451.5"/>
<use href="#p" x="376.5" y="456.5"/>
<use href="#p" x="425.5" y="455.5"/>
<use href="#p" x="397.5" y="456.5"/>
<use href="#p" x="375.5" y="454.5"/>
<use href="#p" x="431.5" y="453.5"/>
<use href="#p" x="442.5" y="457.5"/>
<use href="#p" x="449.5" y="456.5"/>
<use href="#p" x="407.5" y="455.5"/>
<use href="#p" x="363.5" y="455.5"/>
<use href="#p" x="374.5" y="454.5"/>
<use href="#p" x="362.5" y="456.5"/>
<use href="#p" x="447.5" y="453.5"/>
<use href="#p" x="344.5" y="455.5"/>
<use href="#p" x="419.5" y="455.5"/>
<use href="#p" x="422.5" y="452.5"/>
<use href="#p" x="415.5" y="456.5"/>
<use href="#p" x="451.5" y="454.5"/>
<use href="#p" x="375.5" y="455.5"/>
<use href="#p" x="427.5" y="453.5"/>
<use href="#p" x="409.5" y="452.5"/>
<use href="#p" x="431.5" y="456.5"/>
<use href="#p" x="413.5" y="456.5"/>
<use href="#p" x="385.5" y="454.5"/>
<use href="#p" x="359.5" y="453.5"/>
<use href="#p" x="451.5" y="454.5"/>
<use href="#p" x="390.5" y="455.5"/>
<use href="#p" x="415.5" y="454.5"/>
<use href="#p" x="397.5" y="455.5"/>
<use href="#p" x="417.5" y="454.5"/>
<use href="#p" x="442.5" y="455.5"/>
<use href="#p" x="438.5" y="454.5"/>
<use href="#p" x="424.5" y="454.5"/>
<use href="#p" x="383.5" y="453.5"/>
<use href="#p" x="411.5" y="457.5"/>
<use href="#p" x="339.5" y="455.5"/>
<use href="#p" x="350.5" y="454.5"/>
<use href="#p" x="394.5" y="454.5"/>
<use href="#p" x="433.5" y="452.5"/>
<use href="#p" x="385.5" y="455.5"/>
<use href="#p" x="449.5" y="456.5"/>
<use href="#p" x="379.5" y="455.5"/>
<use href="#p" x="402.5" y="454.5"/>
<use href="#p" x="449.5" y="454.5"/>
<use href="#p" x="428.5" y="454.5"/>
<use href="#p" x="427.5" y="454.5"/>
<use href="#p" x="425.5" y="455.5"/>
<use href="#p" x="428.5" y="455.5"/>
<use href="#p" x="403.5" y="452.5"/>
<use href="#p" x="441.5" y="457.5"/>
<use href="#p" x="378.5" y="454.5"/>
<use href="#p" x="389.5" y="454.5"/>
<use href="#p" x="337.5" y="454.5"/>
<use href="#p" x="411.5" y="453.5"/>
<use href="#p" x="391.5" y="455.5"/>
<use href="#p" x="383.5" y="457.5"/>
<use href="#p" x="423.5" y="452.5"/>
<use href="#p" x="376.5" y="453.5"/>
<use href="#p" x="365.5" y="454.5"/>
<use href="#p" x="436.5" y="453.5"/>
<use href="#p" x="390.5" y="457.5"/>
<use href="#p" x="433.5" y="456.5"/>
<use href="#p" x="450.5" y="455.5"/>
<use href="#p" x="356.5" y="454.5"/>
<use href="#p" x="383.5" y="454.5"/>
<use href="#p" x="428.5" y="457.5"/>
<use href="#p" x="381.5" y="454.5"/>
<use href="#p" x="448.5" y="453.5"/>
<use href="#p" x="440.5" y="456.5"/>
<use href="#p" x="373.5" y="455.5"/>
<use href="#p" x="442.5" y="457.5"/>
<use href="#p" x="434.5" y="454.5"/>
<use href="#p" x="375.5" y="451.5"/>
<use href="#p" x="397.5" y="458.5"/>
<use href="#p" x="438.5" y="452.5"/>
<use href="#p" x="448.5" y="455.5"/>
<use href="#p" x="440.5" y="455.5"/>
<use href="#p" x="368.5" y="454.5"/>
<use href="#p" x="434.5" y="455.5"/>
<use href="#p" x="399.5" y="453.5"/>
<use href="#p" x="424.5" y="455.5"/>
<use href="#p" x="438.5" y="454.5"/>
<use href="#p" x="436.5" y="454.5"/>
<use href="#p" x="418.5" y="452.5"/>
<use href="#p" x="439.5" y="452.5"/>
<use href="#p" x="447.5" y="453.5"/>
<use href="#p" x="352.5" y="451.5"/>
<use href="#p" x="398.5" y="452.5"/>
<use href="#p" x="345.5" y="453.5"/>
<use href="#p" x="385.5" y="455.5"/>
<use href="#p" x="445.5" y="455.5"/>
<use href="#p" x="437.5" y="454.5"/>
<use href="#p" x="384.5" y="455.5"/>
<use href="#p" x="377.5" y="455.5"/>
<use href="#p" x="431.5" y="455.5"/>
<use href="#p" x="441.5" y="454.5"/>
<use href="#p" x="441.5" y="453.5"/>
<use href="#p" x="443.5" y="455.5"/>
<use href="#p" x="387.5" y="453.5"/>
<use href="#p" x="417.5" y="451.5"/>
<use href="#p" x="384.5" y="453.5"/>
<use href="#p" x="409.5" y="454.5"/>
<use href="#p" x="379.5" y="457.5"/>
<use href="#p" x="336.5" y="455.5"/>
<use href="#p" x="427.5" y="454.5"/>
<use href="#p" x="352.5" y="455.5"/>
<use href="#p" x="417.5" y="455.5"/>
<use href="#p" x="414.5" y="455.5"/>
<use href="#p" x="399.5" y="454.5"/>
<use href="#p" x="405.5" y="455.5"/>
<use href="#p" x="432.5" y="456.5"/>
<use href="#p" x="393.5" y="454.5"/>
<use href="#p" x="376.5" y="454.5"/>
<use href="#p" x="373.5" y="453.5"/>
<use href="#p" x="419.5" y="454.5"/>
<use href="#p" x="334.5" y="454.5"/>
<use href="#p" x="337.5" y="454.5"/>
<use href="#p" x="437.5" y="457.5"/>
<use href="#p" x="390.5" y="456.5"/>
<use href="#p" x="419.5" y="454.5"/>
<use href="#p" x="432.5" y="455.5"/>
<use href="#p" x="441.5" y="455.5"/>
<use href="#p" x="386.5" y="454.5"/>
<use href="#p" x="393.5" y="453.5"/>
<use href="#p" x="448.5" y="454.5"/>
<use href="#p" x="389.5" y="454.5"/>
<use href="#p" x="382.5" y="456.5"/>
<use href="#p" x="380.5" y="454.5"/>
<use href="#p" x="402.5" y="454.5"/>
<use href="#p" x="414.5" y="454.5"/>
<use href="#p" x="402.5" y="453.5"/>
<use href="#p" x="435.5" y="456.5"/>
<use href="#p" x="441.5" y="453.5"/>
<use href="#p" x="440.5" y="451.5"/>
<use href="#p" x="402.5" y="454.5"/>
<use href="#p" x="358.5" y="453.5"/>
<use href="#p" x="335.5" y="453.5"/>
<use href="#p" x="398.5" y="455.5"/>
<use href="#p" x="429.5" y="456.5"/>
<use href="#p" x="400.5" y="455.5"/>
<use href="#p" x="349.5" y="452.5"/>
<use href="#p" x="372.5" y="454.5"/>
<use href="#p" x="429.5" y="455.5"/>
<use href="#p" x="446.5" y="454.5"/>
<use href="#p" x="384.5" y="453.5"/>
<use href="#p" x="374.5" y="456.5"/>
<use href="#p" x="404.5" y="454.5"/>
<use href="#p" x="359.5" y="453.5"/>
<use href="#p" x="434.5" y="454.5"/>
<use href="#p" x="397.5" y="453.5"/>
<use href="#p" x="379.5" y="452.5"/>
<use href="#p" x="426.5" y="454.5"/>
<use href="#p" x="435.5" y="453.5"/>
<use href="#p" x="385.5" y="453.5"/>
<use href="#p" x="361.5" y="454.5"/>
<use href="#p" x="348.5" y="453.5"/>
<use href="#p" x="397.5" y="456.5"/>
<use href="#p" x="404.5" y="453.5"/>
<use href="#p" x="354.5" y="454.5"/>
<use href="#p" x="372.5" y="453.5"/>
<use href="#p" x="425.5" y="455.5"/>
<use href="#p" x="447.5" y="453.5"/>
<use href="#p" x="417.5" y="455.5"/>
<use href="#p" x="423.5" y="454.5"/>
<use href="#p" x="413.5" y="455.5"/>
<use href="#p" x="360.5" y="455.5"/>
<use href="#p" x="443.5" y="455.5"/>
<use href="#p" x="405.5" y="454.5"/>
<use href="#p" x="420.5" y="453.5"/>
<use href="#p" x="426.5" y="454.5"/>
<use href="#p" x="379.5" y="457.5"/>
<use href="#p" x="451.5" y="454.5"/>
<use href="#p" x="444.5" y="455.5"/>
<use href="#p" x="434.5" y="454.5"/>
<use href="#p" x="426.5" y="456.5"/>
<use href="#p" x="380.5" y="455.5"/>
<use href="#p" x="431.5" y="454.5"/>
<use href="#p" x="417.5" y="456.5"/>
<use href="#p" x="418.5" y="455.5"/>
<use href="#p" x="429.5" y="454.5"/>
<use href="#p" x="409.5" y="457.5"/>
<use href="#p" x="396.5" y="456.5"/>
<use href="#p" x="422.5" y="454.5"/>
<use href="#p" x="439.5" y="455.5"/>
<use href="#p" x="362.5" y="454.5"/>
<use href="#p" x="382.5" y="451.5"/>
<use href="#p" x="355.5" y="454.5"/>
<use href="#p" x="451.5" y="455.5"/>
<use href="#p" x="363.5" y="454.5"/>
<use href="#p" x="451.5" y="455.5"/>
<use href="#p" x="420.5" y="454.5"/>
<use href="#p" x="404.5" y="454.5"/>
<use href="#p" x="387.5" y="456.5"/>
<use href="#p" x="384.5" y="452.5"/>
<use href="#p" x="336.5" y="454.5"/>
<use href="#p" x="382.5" y="455.5"/>
<use href="#p" x="381.5" y="454.5"/>
<use href="#p" x="444.5" y="453.5"/>
<use href="#p" x="438.5" y="453.5"/>
<use href="#p" x="412.5" y="455.5"/>
<use href="#p" x="450.5" y="453.5"/>
<use href="#p" x="372.5" y="455.5"/>
<use href="#p" x="444.5" y="455.5"/>
<use href="#p" x="435.5" y="452.5"/>
<use href="#p" x="399.5" y="455.5"/>
<use href="#p" x="334.5" y="453.5"/>
<use href="#p" x="426.5" y="454.5"/>
<use href="#p" x="415.5" y="452.5"/>
<use href="#p" x="415.5" y="456.5"/>
<use href="#p" x="441.5" y="455.5"/>
<use href="#p" x="344.5" y="454.5"/>
<use href="#p" x="401.5" y="456.5"/>
<use href="#p" x="427.5" y="455.5"/>
<use href="#p" x="411.5" y="456.5"/>
<use href="#p" x="435.5" y="453.5"/>
<use href="#p" x="389.5" y="453.5"/>
<use href="#p" x="445.5" y="453.5"/>
<use href="#p" x="394.5" y="456.5"/>
<use href="#p" x="441.5" y="454.5"/>
<use href="#p" x="447.5" y="452.5"/>
<use href="#p" x="445.5" y="454.5"/>
<use href="#p" x="393.5" y="455.5"/>
<use href="#p" x="328.5" y="455.5"/>
<use href="#x" x="363.5" y="260.5"/>
<use href="#x" x="395.5" y="307.5"/>
<use href="#x" x="302.5" y="375.5"/>
<use href="#x" x="438.5" y="385.5"/>
<use href="#x" x="444.5" y="391.5"/>
<use href="#x" x="392.5" y="420.5"/>
<use href="#x" x="412.5" y="430.5"/>
<use href="#x" x="384.5" y="438.5"/>
<use href="#x" x="424.5" y="446.5"/>
<use href="#x" x="421.5" y="456.5"/>
<use href="#x" x="451.5" y="455.5"/>
<use href="#x" x="441.5" y="454.5"/>
<use href="#x" x="357.5" y="455.5"/>
<use href="#x" x="369.5" y="455.5"/>
<use href="#x" x="395.5" y="457.5"/>
<use href="#x" x="442.5" y="458.5"/>
<use href="#x" x="392.5" y="453.5"/>
<use href="#x" x="434.5" y="454.5"/>
<use href="#x" x="435.5" y="454.5"/>
<use href="#x" x="422.5" y="455.5"/>
<use href="#x" x="390.5" y="455.5"/>
<use href="#x" x="409.5" y="454.5"/>
<use href="#x" x="340.5" y="455.5"/>
<use href="#x" x="425.5" y="454.5"/>
<use href="#x" x="423.5" y="455.5"/>
<use href="#x" x="430.5" y="451.5"/>
<use href="#x" x="371.5" y="456.5"/>
<use href="#x" x="382.5" y="455.5"/>
<use href="#x" x="371.5" y="453.5"/>
<use href="#x" x="436.5" y="457.5"/>
<use href="#x" x="393.5" y="456.5"/>
<use href="#x" x="433.5" y="453.5"/>
<use href="#x" x="389.5" y="455.5"/>
<use href="#x" x="440.5" y="454.5"/>
<use href="#x" x="447.5" y="455.5"/>
<use href="#x" x="436.5" y="454.5"/>
<use href="#x" x="403.5" y="456.5"/>
<use href="#x" x="375.5" y="455.5"/>
<use href="#x" x="436.5" y="452.5"/>
<use href="#x" x="375.5" y="453.5"/>
<use href="#x" x="362.5" y="456.5"/>
<use href="#x" x="433.5" y="454.5"/>
<use href="#x" x="395.5" y="454.5"/>
<use href="#x" x="445.5" y="454.5"/>
<use href="#x" x="365.5" y="455.5"/>
<use href="#x" x="399.5" y="454.5"/>
<use href="#x" x="424.5" y="454.5"/>
<use href="#x" x="436.5" y="452.5"/>
<use href="#x" x="411.5" y="456.5"/>
<use href="#x" x="409.5" y="451.5"/>
<use href="#x" x="412.5" y="455.5"/>
<use href="#x" x="402.5" y="454.5"/>
<use href="#x" x="420.5" y="456.5"/>
<use href="#x" x="405.5" y="455.5"/>
<use href="#x" x="405.5" y="454.5"/>
<use href="#x" x="360.5" y="452.5"/>
<use href="#x" x="449.5" y="456.5"/>
<use href="#x" x="394.5" y="454.5"/>
<use href="#x" x="351.5" y="454.5"/>
<use href="#x" x="346.5" y="453.5"/>
<use href="#x" x="438.5" y="453.5"/>
<use href="#x" x="433.5" y="454.5"/>
<use href="#x" x="432.5" y="455.5"/>
<use href="#x" x="383.5" y="455.5"/>
<use href="#x" x="438.5" y="453.5"/>
<use href="#x" x="374.5" y="452.5"/>
<use href="#x" x="365.5" y="457.5"/>
<use href="#x" x="412.5" y="451.5"/>
<use href="#x" x="376.5" y="456.5"/>
<use href="#x" x="425.5" y="455.5"/>
<use href="#x" x="397.5" y="456.5"/>
<use href="#x" x="375.5" y="454.5"/>
<use href="#x" x="431.5" y="453.5"/>
<use href="#x" x="442.5" y="457.5"/>
<use href="#x" x="449.5" y="456.5"/>
<use href="#x" x="407.5" y="455.5"/>
<use href="#x" x="363.5" y="455.5"/>
<use href="#x" x="374.5" y="454.5"/>
<use href="#x" x="362.5" y="456.5"/>
<use href="#x" x="447.5" y="453.5"/>
<use href="#x" x="344.5" y="455.5"/>
<use href="#x" x="419.5" y="455.5"/>
<use href="#x" x="422.5" y="452.5"/>
<use href="#x" x="415.5" y="456.5"/>
<use href="#x" x="451.5" y="454.5"/>
<use href="#x" x="375.5" y="455.5"/>
<use href="#x" x="427.5" y="453.5"/>
<use href="#x" x="409.5" y="452.5"/>
<use href="#x" x="431.5" y="456.5"/>
<use href="#x" x="413.5" y="456.5"/>
<use href="#x" x="385.5" y="454.5"/>
<use href="#x" x="359.5" y="453.5"/>
<use href="#x" x="451.5" y="454.5"/>
<use href="#x" x="390.5" y="455.5"/>
<use href="#x" x="415.5" y="454.5"/>
<use href="#x" x="397.5" y="455.5"/>
<use href="#x" x="417.5" y="454.5"/>
<use href="#x" x="442.5" y="455.5"/>
<use href="#x" x="438.5" y="454.5"/>
<use href="#x" x="424.5" y="454.5"/>
<use href="#x" x="383.5" y="453.5"/>
<use href="#x" x="411.5" y="457.5"/>
<use href="#x" x="339.5" y="455.5"/>
<use href="#x" x="350.5" y="454.5"/>
<use href="#x" x="394.5" y="454.5"/>
<use href="#x" x="433.5" y="452.5"/>
<use href="#x" x="385.5" y="455.5"/>
<use href="#x" x="449.5" y="456.5"/>
<use href="#x" x="379.5" y="455.5"/>
<use href="#x" x="402.5" y="454.5"/>
<use href="#x" x="449.5" y="454.5"/>
<use href="#x" x="428.5" y="454.5"/>
<use href="#x" x="427.5" y="454.5"/>
<use href="#x" x="425.5" y="455.5"/>
<use href="#x" x="428.5" y="455.5"/>
<use href="#x" x="403.5" y="452.5"/>
<use href="#x" x="441.5" y="457.5"/>
<use href="#x" x="378.5" y="454.5"/>
<use href="#x" x="389.5" y="454.5"/>
<use href="#x" x="337.5" y="454.5"/>
<use href="#x" x="411.5" y="453.5"/>
<use href="#x" x="391.5" y="455.5"/>
<use href="#x" x="383.5" y="457.5"/>
<use href="#x" x="423.5" y="452.5"/>
<use href="#x" x="376.5" y="453.5"/>
<use href="#x" x="365.5" y="454.5"/>
<use href="#x" x="436.5" y="453.5"/>
<use href="#x" x="390.5" y="457.5"/>
<use href="#x" x="433.5" y="456.5"/>
<use href="#x" x="450.5" y="455.5"/>
<use href="#x" x="356.5" y="454.5"/>
<use href="#x" x="383.5" y="454.5"/>
<use href="#x" x="428.5" y="457.5"/>
<use href="#x" x="381.5" y="454.5"/>
<use href="#x" x="448.5" y="453.5"/>
<use href="#x" x="440.5" y="456.5"/>
<use href="#x" x="373.5" y="455.5"/>
<use href="#x" x="442.5" y="457.5"/>
<use href="#x" x="434.5" y="454.5"/>
<use href="#x" x="375.5" y="451.5"/>
<use href="#x" x="397.5" y="458.5"/>
<use href="#x" x="438.5" y="452.5"/>
<use href="#x" x="448.5" y="455.5"/>
<use href="#x" x="440.5" y="455.5"/>
<use href="#x" x="368.5" y="454.5"/>
<use href="#x" x="434.5" y="455.5"/>
<use href="#x" x="399.5" y="453.5"/>
<use href="#x" x="424.5" y="455.5"/>
<use href="#x" x="438.5" y="454.5"/>
<use href="#x" x="436.5" y="454.5"/>
<use href="#x" x="418.5" y="452.5"/>
<use href="#x" x="439.5" y="452.5"/>
<use href="#x" x="447.5" y="453.5"/>
<use href="#x" x="352.5" y="451.5"/>
<use href="#x" x="398.5" y="452.5"/>
<use href="#x" x="345.5" y="453.5"/>
<use href="#x" x="385.5" y="455.5"/>
<use href="#x" x="445.5" y="455.5"/>
<use href="#x" x="437.5" y="454.5"/>
<use href="#x" x="384.5" y="455.5"/>
<use href="#x" x="377.5" y="455.5"/>
<use href="#x" x="431.5" y="455.5"/>
<use href="#x" x="441.5" y="454.5"/>
<use href="#x" x="441.5" y="453.5"/>
<use href="#x" x="443.5" y="455.5"/>
<use href="#x" x="387.5" y="453.5"/>
<use href="#x" x="417.5" y="451.5"/>
<use href="#x" x="384.5" y="453.5"/>
<use href="#x" x="409.5" y="454.5"/>
<use href="#x" x="379.5" y="457.5"/>
<use href="#x" x="336.5" y="455.5"/>
<use href="#x" x="427.5" y="454.5"/>
<use href="#x" x="352.5" y="455.5"/>
<use href="#x" x="417.5" y="455.5"/>
<use href="#x" x="414.5" y="455.5"/>
<use href="#x" x="399.5" y="454.5"/>
<use href="#x" x="405.5" y="455.5"/>
<use href="#x" x="432.5" y="456.5"/>
<use href="#x" x="393.5" y="454.5"/>
<use href="#x" x="376.5" y="454.5"/>
<use href="#x" x="373.5" y="453.5"/>
<use href="#x" x="419.5" y="454.5"/>
<use href="#x" x="334.5" y="454.5"/>
<use href="#x" x="337.5" y="454.5"/>
<use href="#x" x="437.5" y="457.5"/>
<use href="#x" x="390.5" y="456.5"/>
<use href="#x" x="419.5" y="454.5"/>
<use href="#x" x="432.5" y="455.5"/>
<use href="#x" x="441.5" y="455.5"/>
<use href="#x" x="386.5" y="454.5"/>
<use href="#x" x="393.5" y="453.5"/>
<use href="#x" x="448.5" y="454.5"/>
<use href="#x" x="389.5" y="454.5"/>
<use href="#x" x="382.5" y="456.5"/>
<use href="#x" x="380.5" y="454.5"/>
<use href="#x" x="402.5" y="454.5"/>
<use href="#x" x="414.5" y="454.5"/>
<use href="#x" x="402.5" y="453.5"/>
<use href="#x" x="435.5" y="456.5"/>
<use href="#x" x="441.5" y="453.5"/>
<use href="#x" x="440.5" y="451.5"/>
<use href="#x" x="402.5" y="454.5"/>
<use href="#x" x="358.5" y="453.5"/>
<use href="#x" x="335.5" y="453.5"/>
<use href="#x" x="398.5" y="455.5"/>
<use href="#x" x="429.5" y="456.5"/>
<use href="#x" x="400.5" y="455.5"/>
<use href="#x" x="349.5" y="452.5"/>
<use href="#x" x="372.5" y="454.5"/>
<use href="#x" x="429.5" y="455.5"/>
<use href="#x" x="446.5" y="454.5"/>
<use href="#x" x="384.5" y="453.5"/>
<use href="#x" x="374.5" y="456.5"/>
<use href="#x" x="404.5" y="454.5"/>
<use href="#x" x="359.5" y="453.5"/>
<use href="#x" x="434.5" y="454.5"/>
<use href="#x" x="397.5" y="453.5"/>
<use href="#x" x="379.5" y="452.5"/>
<use href="#x" x="426.5" y="454.5"/>
<use href="#x" x="435.5" y="453.5"/>
<use href="#x" x="385.5" y="453.5"/>
<use href="#x" x="361.5" y="454.5"/>
<use href="#x" x="348.5" y="453.5"/>
<use href="#x" x="397.5" y="456.5"/>
<use href="#x" x="404.5" y="453.5"/>
<use href="#x" x="354.5" y="454.5"/>
<use href="#x" x="372.5" y="453.5"/>
<use href="#x" x="425.5" y="455.5"/>
<use href="#x" x="447.5" y="453.5"/>
<use href="#x" x="417.5" y="455.5"/>
<use href="#x" x="423.5" y="454.5"/>
<use href="#x" x="413.5" y="455.5"/>
<use href="#x" x="360.5" y="455.5"/>
<use href="#x" x="443.5" y="455.5"/>
<use href="#x" x="405.5" y="454.5"/>
<use href="#x" x="420.5" y="453.5"/>
<use href="#x" x="426.5" y="454.5"/>
<use href="#x" x="379.5" y="457.5"/>
<use href="#x" x="451.5" y="454.5"/>
<use href="#x" x="444.5" y="455.5"/>
<use href="#x" x="434.5" y="454.5"/>
<use href="#x" x="426.5" y="456.5"/>
<use href="#x" x="380.5" y="455.5"/>
<use href="#x" x="431.5" y="454.5"/>
<use href="#x" x="417.5" y="456.5"/>
<use href="#x" x="418.5" y="455.5"/>
<use href="#x" x="429.5" y="454.5"/>
<use href="#x" x="409.5" y="457.5"/>
<use href="#x" x="396.5" y="456.5"/>
<use href="#x" x="422.5" y="454.5"/>
<use href="#x" x="439.5" y="455.5"/>
<use href="#x" x="362.5" y="454.5"/>
<use href="#x" x="382.5" y="451.5"/>
<use href="#x" x="355.5" y="454.5"/>
<use href="#x" x="451.5" y="455.5"/>
<use href="#x" x="363.5" y="454.5"/>
<use href="#x" x="451.5" y="455.5"/>
<use href="#x" x="420.5" y="454.5"/>
<use href="#x" x="404.5" y="454.5"/>
<use href="#x" x="387.5" y="456.5"/>
<use href="#x" x="384.5" y="452.5"/>
<use href="#x" x="336.5" y="454.5"/>
<use href="#x" x="382.5" y="455.5"/>
<use href="#x" x="381.5" y="454.5"/>
<use href="#x" x="444.5" y="453.5"/>
<use href="#x" x="438.5" y="453.5"/>
<use href="#x" x="412.5" y="455.5"/>
<use href="#x" x="450.5" y="453.5"/>
<use href="#x" x="372.5" y="455.5"/>
<use href="#x" x="444.5" y="455.5"/>
<use href="#x" x="435.5" y="452.5"/>
<use href="#x" x="399.5" y="455.5"/>
<use href="#x" x="334.5" y="453.5"/>
<use href="#x" x="426.5" y="454.5"/>
<use href="#x" x="415.5" y="452.5"/>
<use href="#x" x="415.5" y="456.5"/>
<use href="#x" x="441.5" y="455.5"/>
<use href="#x" x="344.5" y="454.5"/>
<use href="#x" x="401.5" y="456.5"/>
<use href="#x" x="427.5" y="455.5"/>
<use href="#x" x="411.5" y="456.5"/>
<use href="#x" x="435.5" y="453.5"/>
<use href="#x" x="389.5" y="453.5"/>
<use href="#x" x="445.5" y="453.5"/>
<use href="#x" x="394.5" y="456.5"/>
<use href="#x" x="441.5" y="454.5"/>
<use href="#x" x="447.5" y="452.5"/>
<use href="#x" x="445.5" y="454.5"/>
<use href="#x" x="393.5" y="455.5"/>
<use href="#x" x="328.5" y="455.5"/>
<use href="#o" x="361.7" y="456"/>
<use href="#o" x="372.2" y="456.2"/>
<use href="#o" x="342.4" y="455.7"/>
<use href="#o" x="412.8" y="456.8"/>
<use href="#o" x="423" y="456.7"/>
<use href="#o" x="394.4" y="455.9"/>
<use href="#o" x="420.7" y="456.2"/>
<use href="#o" x="388.4" y="456.3"/>
<use href="#o" x="389.6" y="456.2"/>
<use href="#o" x="383.2" y="456.7"/>
<use href="#o" x="394.3" y="457"/>
<use href="#o" x="343.9" y="456.1"/>
<use href="#o" x="422.4" y="455.7"/>
<use href="#o" x="394.4" y="455.7"/>
<use href="#o" x="380.6" y="456.6"/>
<use href="#o" x="342.8" y="455.8"/>
<use href="#o" x="376.8" y="455.7"/>
<use href="#o" x="367.9" y="456.5"/>
<use href="#o" x="370.3" y="456.4"/>
<use href="#o" x="369" y="455.8"/>
<use href="#o" x="361.2" y="456.2"/>
<use href="#o" x="358.1" y="456"/>
<use href="#o" x="420.1" y="455.9"/>
<use href="#o" x="343.4" y="456.1"/>
<use href="#o" x="422.3" y="456.5"/>
<use href="#o" x="383.2" y="455.5"/>
<use href="#o" x="368.2" y="455.8"/>
<use href="#o" x="358" y="456.3"/>
<use href="#o" x="376.4" y="456.4"/>
<use href="#o" x="384.1" y="455.9"/>
<use href="#o" x="381.3" y="455.3"/>
<use href="#o" x="394.8" y="456"/>
<use href="#o" x="417.5" y="456"/>
<use href="#o" x="375.6" y="455.5"/>
<use href="#o" x="391.8" y="455.9"/>
<use href="#o" x="380.6" y="456.7"/>
<use href="#o" x="394.7" y="456.3"/>
<use href="#o" x="388.8" y="455.9"/>
<use href="#o" x="413.3" y="455.9"/>
<use href="#o" x="358" y="456"/>
<use href="#o" x="348.9" y="455.9"/>
<use href="#o" x="355.7" y="456.1"/>
<use href="#o" x="342.8" y="456.1"/>
<use href="#o" x="344.8" y="456"/>
<use href="#o" x="372.2" y="456.4"/>
<use href="#o" x="364.5" y="455.5"/>
<use href="#o" x="342.9" y="456.3"/>
<use href="#o" x="416.6" y="455.6"/>
<use href="#o" x="398.3" y="456"/>
<use href="#o" x="397" y="455.5"/>
<use href="#o" x="392.6" y="456.2"/>
<use href="#o" x="418.1" y="456.2"/>
<use href="#o" x="354.7" y="456.1"/>
<use href="#o" x="387.7" y="456.3"/>
<use href="#o" x="413.8" y="456.5"/>
<use href="#o" x="375.5" y="463.5"/>
<use href="#o" x="341.8" y="456"/>
<use href="#o" x="343" y="456"/>
<use href="#o" x="398" y="456"/>
<use href="#o" x="399.6" y="456"/>
<use href="#o" x="412.6" y="456"/>
<use href="#o" x="414" y="456"/>
<use href="#o" x="422" y="456"/>
<use href="#o" x="423.4" y="456"/>
<path d="M100.5 456.4H720" stroke="#0000ff" stroke-width="1.4" stroke-dasharray="8.333 8.333" fill="none"/>
</g>
<rect x="100.5" y="60.2" width="620.1" height="479.9" fill="none" stroke="#000" stroke-width="1.4"/>
<path d="M100.5 540V534.2M182.5 540V534.2M265.5 540V534.2M348.5 540V534.2M430.5 540V534.2M513.5 540V534.2M596.5 540V534.2M678.5 540V534.2M136.5 60.5V66.3M219.5 60.5V66.3M302.5 60.5V66.3M384.5 60.5V66.3M467.5 60.5V66.3M550.5 60.5V66.3M632.5 60.5V66.3M715.5 60.5V66.3M100.5 540.5H106.3M720.5 540.5H714.7M100.5 420.5H106.3M720.5 420.5H714.7M100.5 300.5H106.3M720.5 300.5H714.7M100.5 180.5H106.3M720.5 180.5H714.7M100.5 60.5H106.3M720.5 60.5H714.7" stroke="#000" stroke-width="0.9" fill="none"/>
<text class="tk" transform="translate(100.0 560) scale(1 1.06)" text-anchor="middle">−20</text>
<text class="tk" transform="translate(182.7 560) scale(1 1.06)" text-anchor="middle">−18</text>
<text class="tk" transform="translate(265.3 560) scale(1 1.06)" text-anchor="middle">−16</text>
<text class="tk" transform="translate(348.0 560) scale(1 1.06)" text-anchor="middle">−14</text>
<text class="tk" transform="translate(430.7 560) scale(1 1.06)" text-anchor="middle">−12</text>
<text class="tk" transform="translate(513.3 560) scale(1 1.06)" text-anchor="middle">−10</text>
<text class="tk" transform="translate(596.0 560) scale(1 1.06)" text-anchor="middle">−8</text>
<text class="tk" transform="translate(678.7 560) scale(1 1.06)" text-anchor="middle">−6</text>
<text class="tk" transform="translate(136.3 49.5) scale(1 1.06)" text-anchor="middle">14</text>
<text class="tk" transform="translate(219.0 49.5) scale(1 1.06)" text-anchor="middle">16</text>
<text class="tk" transform="translate(301.6 49.5) scale(1 1.06)" text-anchor="middle">18</text>
<text class="tk" transform="translate(384.3 49.5) scale(1 1.06)" text-anchor="middle">20</text>
<text class="tk" transform="translate(467.0 49.5) scale(1 1.06)" text-anchor="middle">22</text>
<text class="tk" transform="translate(549.6 49.5) scale(1 1.06)" text-anchor="middle">24</text>
<text class="tk" transform="translate(632.3 49.5) scale(1 1.06)" text-anchor="middle">26</text>
<text class="tk" transform="translate(715.0 49.5) scale(1 1.06)" text-anchor="middle">28</text>
<text class="tk" transform="translate(95.3 545.1) scale(1 1.06)" text-anchor="end">0</text>
<text class="tk" transform="translate(95.3 425.1) scale(1 1.06)" text-anchor="end">5</text>
<text class="tk" transform="translate(95.3 305.1) scale(1 1.06)" text-anchor="end">10</text>
<text class="tk" transform="translate(95.3 185.1) scale(1 1.06)" text-anchor="end">15</text>
<text class="tk" transform="translate(95.3 65.1) scale(1 1.06)" text-anchor="end">20</text>
<text class="lg" transform="translate(410.5 29) scale(1 1.035)" text-anchor="middle">FWHM vs magnitudes</text>
<text class="tk" transform="translate(410.5 584) scale(1 1.06)" text-anchor="middle">magnitude (bottom:isnt / top:calib)</text>
<text class="tk" transform="translate(63.6 299.5) rotate(-90) scale(1 1.06)" text-anchor="middle">FWHM (pix)</text>
<rect x="398.6" y="70.5" width="311.9" height="121.8" fill="#fff" stroke="#000" stroke-width="1.4"/>
<text class="lg" transform="translate(462 93) scale(1 1.035)">all sample</text>
<text class="lg" transform="translate(462 122) scale(1 1.035)">sample for rough FWHM</text>
<text class="lg" transform="translate(462 151) scale(1 1.035)">coarse PSF-like sample</text>
<text class="lg" transform="translate(462 180) scale(1 1.035)">tentative FWHM</text>
<use href="#p" x="412.5" y="86.5"/>
<use href="#x" x="412.5" y="115.5"/>
<use href="#o" x="412.5" y="144.5"/>
<use href="#p" x="440.5" y="86.5"/>
<use href="#x" x="440.5" y="115.5"/>
<use href="#o" x="440.5" y="144.5"/>
<path d="M412 173.4H440" stroke="#0000ff" stroke-width="1.4" stroke-dasharray="8.333 8.333" fill="none"/>
</svg></body></html>
